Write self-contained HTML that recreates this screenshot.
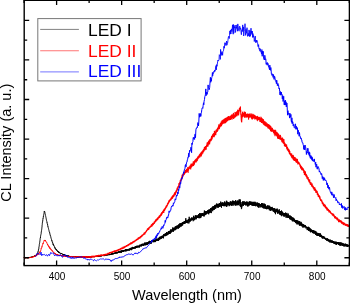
<!DOCTYPE html>
<html><head><meta charset="utf-8"><style>
html,body{margin:0;padding:0;background:#fff;}
svg{display:block;font-family:"Liberation Sans",sans-serif;will-change:transform;}
</style></head><body>
<svg width="350" height="303" viewBox="0 0 350 303">
<rect width="350" height="303" fill="#fff"/>
<path fill="none" stroke="#000" stroke-width="1.0" stroke-linejoin="round" stroke-opacity="1" d="M24.0 257.8 24.1 257.9 24.1 257.7 24.2 257.6 24.3 257.7 24.4 257.6 24.4 257.8 24.5 258.1 24.6 257.7 24.6 257.7 24.7 257.9 24.8 257.9 24.8 257.8 24.9 257.6 25.0 257.8 25.1 257.9 25.1 257.5 25.2 257.7 25.3 257.4 25.3 257.5 25.4 257.4 25.5 257.7 25.5 257.5 25.6 257.8 25.7 257.8 25.8 257.7 25.8 257.3 25.9 257.6 26.0 257.7 26.0 257.8 26.1 257.4 26.2 257.6 26.2 257.5 26.3 257.6 26.4 257.9 26.5 257.6 26.5 257.7 26.6 257.9 26.7 257.6 26.7 257.7 26.8 257.7 26.9 257.7 26.9 257.4 27.0 257.7 27.1 258.0 27.2 257.4 27.2 257.8 27.3 257.7 27.4 257.5 27.4 258.1 27.5 257.8 27.6 257.4 27.6 257.6 27.7 257.7 27.8 257.6 27.9 257.8 27.9 257.6 28.0 257.7 28.1 257.9 28.1 257.5 28.2 257.6 28.3 257.5 28.3 257.6 28.4 257.3 28.5 257.4 28.6 257.5 28.6 257.7 28.7 257.8 28.8 257.3 28.8 257.4 28.9 257.6 29.0 257.1 29.0 257.4 29.1 257.5 29.2 257.7 29.3 257.6 29.3 257.4 29.4 257.4 29.5 257.4 29.5 257.8 29.6 257.4 29.7 257.4 29.7 257.5 29.8 257.4 29.9 257.4 30.0 257.2 30.0 257.4 30.1 257.3 30.2 257.6 30.2 257.5 30.3 257.4 30.4 257.5 30.4 257.3 30.5 257.5 30.6 257.3 30.7 257.4 30.7 257.0 30.8 257.3 30.9 256.9 30.9 256.8 31.0 257.2 31.1 257.0 31.1 257.2 31.2 257.6 31.3 257.0 31.4 257.0 31.4 257.2 31.5 257.2 31.6 257.1 31.6 257.0 31.7 257.2 31.8 257.1 31.8 256.8 31.9 257.0 32.0 257.0 32.1 256.8 32.1 257.0 32.2 256.7 32.3 257.1 32.3 256.9 32.4 256.9 32.5 256.7 32.5 256.8 32.6 256.4 32.7 256.5 32.8 256.8 32.8 256.3 32.9 256.9 33.0 256.3 33.0 256.8 33.1 256.4 33.2 256.7 33.2 256.6 33.3 256.2 33.4 256.8 33.5 256.8 33.5 256.4 33.6 256.4 33.7 256.4 33.7 256.2 33.8 256.6 33.9 256.2 33.9 256.3 34.0 256.1 34.1 256.1 34.2 255.9 34.2 256.4 34.3 256.1 34.4 256.3 34.4 256.1 34.5 255.9 34.6 255.9 34.6 255.9 34.7 255.9 34.8 255.8 34.9 255.8 34.9 255.6 35.0 255.6 35.1 256.1 35.1 255.6 35.2 255.5 35.3 255.7 35.3 255.9 35.4 255.3 35.5 255.5 35.6 255.4 35.6 255.1 35.7 255.5 35.8 255.3 35.8 255.3 35.9 255.1 36.0 255.3 36.0 255.0 36.1 255.0 36.2 254.8 36.3 254.7 36.3 255.2 36.4 254.7 36.5 254.8 36.5 254.7 36.6 254.5 36.7 254.4 36.7 254.6 36.8 254.3 36.9 254.3 37.0 254.2 37.0 254.4 37.1 254.2 37.2 254.0 37.2 253.7 37.3 253.4 37.4 253.7 37.4 253.6 37.5 253.2 37.6 253.2 37.7 253.0 37.7 252.9 37.8 252.7 37.9 252.2 37.9 252.4 38.0 251.6 38.1 251.8 38.1 251.5 38.2 251.3 38.3 251.3 38.4 251.0 38.4 250.2 38.5 249.8 38.6 250.0 38.6 249.3 38.7 249.1 38.8 248.8 38.8 247.9 38.9 247.4 39.0 247.4 39.1 246.9 39.1 246.3 39.2 245.9 39.3 245.2 39.3 244.5 39.4 244.3 39.5 243.6 39.5 243.0 39.6 242.9 39.7 242.3 39.8 241.9 39.8 241.2 39.9 240.8 40.0 240.2 40.0 239.8 40.1 239.5 40.2 238.9 40.2 238.6 40.3 238.1 40.4 238.0 40.5 236.9 40.5 236.9 40.6 236.2 40.7 235.8 40.7 235.1 40.8 234.9 40.9 234.8 40.9 234.3 41.0 234.0 41.1 233.6 41.2 233.5 41.2 232.9 41.3 232.1 41.4 232.0 41.4 231.2 41.5 230.5 41.6 230.5 41.6 230.2 41.7 229.4 41.8 228.5 41.9 227.9 41.9 227.7 42.0 226.8 42.1 226.1 42.1 225.4 42.2 224.8 42.3 224.3 42.3 223.6 42.4 222.9 42.5 222.1 42.6 221.8 42.6 221.0 42.7 220.9 42.8 219.9 42.8 219.7 42.9 219.3 43.0 218.6 43.0 218.8 43.1 218.4 43.2 217.6 43.3 217.5 43.3 217.0 43.4 216.1 43.5 216.3 43.5 215.9 43.6 215.5 43.7 214.9 43.7 214.6 43.8 214.2 43.9 214.1 44.0 213.4 44.0 212.9 44.1 212.8 44.2 212.1 44.2 211.8 44.3 211.2 44.4 211.7 44.4 211.4 44.5 211.4 44.6 211.4 44.7 211.4 44.7 211.6 44.8 211.8 44.9 212.1 44.9 212.5 45.0 213.2 45.1 213.4 45.1 213.6 45.2 213.9 45.3 214.3 45.4 215.1 45.4 215.2 45.5 215.4 45.6 215.7 45.6 215.8 45.7 216.4 45.8 216.9 45.8 217.0 45.9 217.3 46.0 217.7 46.1 218.1 46.1 218.1 46.2 218.7 46.3 218.9 46.3 219.5 46.4 219.5 46.5 220.1 46.5 220.6 46.6 220.6 46.7 220.8 46.8 221.3 46.8 221.6 46.9 221.7 47.0 222.3 47.0 222.9 47.1 222.7 47.2 223.1 47.2 223.2 47.3 223.8 47.4 223.8 47.5 224.1 47.5 224.9 47.6 224.7 47.7 225.4 47.7 225.8 47.8 225.8 47.9 226.2 47.9 226.8 48.0 226.6 48.1 226.8 48.2 227.0 48.2 227.5 48.3 228.1 48.4 228.3 48.4 228.2 48.5 228.5 48.6 228.8 48.6 229.3 48.7 229.4 48.8 229.8 48.9 230.1 48.9 230.2 49.0 230.6 49.1 230.9 49.1 231.1 49.2 231.5 49.3 232.0 49.3 232.0 49.4 232.2 49.5 232.1 49.6 232.7 49.6 232.5 49.7 232.9 49.8 233.6 49.8 233.8 49.9 233.9 50.0 233.8 50.0 234.3 50.1 234.5 50.2 235.0 50.3 235.6 50.3 235.4 50.4 235.5 50.5 235.6 50.5 236.1 50.6 236.3 50.7 236.4 50.7 236.9 50.8 236.9 50.9 237.6 51.0 237.9 51.0 238.1 51.1 238.1 51.2 238.5 51.2 238.6 51.3 238.8 51.4 239.1 51.4 239.2 51.5 239.4 51.6 240.1 51.7 240.1 51.7 240.4 51.8 240.8 51.9 240.4 51.9 240.8 52.0 241.2 52.1 241.5 52.1 241.5 52.2 242.0 52.3 242.0 52.4 241.9 52.4 242.2 52.5 242.7 52.6 242.8 52.6 242.5 52.7 243.3 52.8 243.4 52.8 243.7 52.9 243.5 53.0 243.7 53.1 243.7 53.1 244.6 53.2 244.2 53.3 244.7 53.3 244.4 53.4 244.8 53.5 244.6 53.5 245.0 53.6 245.4 53.7 245.1 53.8 245.7 53.8 245.7 53.9 245.6 54.0 245.8 54.0 246.0 54.1 246.2 54.2 246.2 54.2 246.3 54.3 246.6 54.4 246.6 54.5 246.6 54.5 247.0 54.6 247.3 54.7 247.0 54.7 247.4 54.8 247.4 54.9 247.5 54.9 248.0 55.0 247.8 55.1 248.4 55.2 248.0 55.2 248.4 55.3 248.4 55.4 248.4 55.4 248.7 55.5 248.7 55.6 249.0 55.6 248.9 55.7 248.8 55.8 249.1 55.9 249.2 55.9 249.5 56.0 249.2 56.1 249.5 56.1 249.2 56.2 249.8 56.3 249.6 56.3 249.5 56.4 249.9 56.5 250.2 56.6 249.8 56.6 250.0 56.7 250.1 56.8 250.1 56.8 250.5 56.9 250.3 57.0 250.4 57.0 250.8 57.1 250.6 57.2 250.9 57.3 250.7 57.3 250.7 57.4 250.7 57.5 251.5 57.5 251.1 57.6 251.3 57.7 251.3 57.7 251.4 57.8 251.4 57.9 251.9 58.0 251.3 58.0 251.3 58.1 251.5 58.2 251.5 58.2 251.9 58.3 252.0 58.4 251.7 58.4 251.7 58.5 251.9 58.6 252.3 58.7 251.6 58.7 252.3 58.8 252.0 58.9 252.5 58.9 252.1 59.0 252.3 59.1 252.1 59.1 252.3 59.2 252.8 59.3 252.7 59.4 252.5 59.4 252.5 59.5 252.3 59.6 252.7 59.6 252.8 59.7 252.8 59.8 252.8 59.8 252.7 59.9 252.9 60.0 253.0 60.1 253.3 60.1 253.4 60.2 253.1 60.3 253.0 60.3 253.2 60.4 253.1 60.5 253.1 60.5 253.3 60.6 253.1 60.7 253.5 60.8 253.4 60.8 253.5 60.9 253.4 61.0 253.4 61.0 253.4 61.1 253.5 61.2 253.5 61.2 253.7 61.3 253.7 61.4 253.4 61.5 253.8 61.5 253.5 61.6 253.7 61.7 253.8 61.7 253.5 61.8 253.9 61.9 254.0 61.9 253.9 62.0 253.9 62.1 253.9 62.2 253.9 62.2 254.0 62.3 254.0 62.4 254.2 62.4 253.9 62.5 254.2 62.6 254.2 62.6 254.2 62.7 254.2 62.8 254.4 62.9 254.0 62.9 254.4 63.0 254.4 63.1 254.5 63.1 254.5 63.2 254.3 63.3 254.4 63.3 254.6 63.4 254.6 63.5 254.6 63.6 254.3 63.6 254.7 63.7 254.9 63.8 254.8 63.8 254.7 63.9 254.4 64.0 254.9 64.0 254.7 64.1 254.3 64.2 254.9 64.3 254.5 64.3 254.6 64.4 254.7 64.5 255.1 64.5 254.8 64.6 255.0 64.7 255.3 64.7 255.3 64.8 255.0 64.9 255.0 65.0 254.8 65.0 254.9 65.1 255.2 65.2 255.2 65.2 255.2 65.3 255.4 65.4 255.0 65.4 255.2 65.5 255.4 65.6 255.4 65.7 255.5 65.7 255.4 65.8 255.2 65.9 255.4 65.9 255.2 66.0 255.0 66.1 255.5 66.1 255.4 66.2 255.5 66.3 255.1 66.4 255.4 66.4 255.4 66.5 255.3 66.6 255.1 66.6 255.5 66.7 255.8 66.8 255.7 66.8 255.5 66.9 255.6 67.0 255.8 67.1 255.1 67.1 255.7 67.2 255.8 67.3 255.9 67.3 256.1 67.4 256.0 67.5 255.8 67.5 255.8 67.6 256.0 67.7 255.7 67.8 255.8 67.8 256.0 67.9 256.3 68.0 255.8 68.0 255.9 68.1 255.9 68.2 256.2 68.2 255.9 68.3 256.2 68.4 255.8 68.5 255.9 68.5 256.0 68.6 256.2 68.7 256.2 68.7 255.7 68.8 255.9 68.9 256.1 68.9 255.9 69.0 255.8 69.1 256.3 69.2 256.2 69.2 256.2 69.3 256.0 69.4 256.3 69.4 256.1 69.5 256.4 69.6 256.0 69.6 256.0 69.7 256.2 69.8 256.1 69.9 256.3 69.9 256.3 70.0 256.0 70.1 256.2 70.1 256.2 70.2 256.4 70.3 256.1 70.3 256.2 70.4 256.5 70.5 256.7 70.6 256.7 70.6 256.3 70.7 256.4 70.8 256.6 70.8 256.3 70.9 256.1 71.0 256.4 71.0 256.4 71.1 256.2 71.2 256.0 71.3 256.1 71.3 256.5 71.4 256.2 71.5 256.4 71.5 256.5 71.6 256.5 71.7 256.4 71.7 256.5 71.8 256.3 71.9 256.4 72.0 256.3 72.0 256.7 72.1 256.5 72.2 256.3 72.2 256.4 72.3 256.5 72.4 256.7 72.4 256.2 72.5 256.3 72.6 256.5 72.7 257.1 72.7 256.7 72.8 256.5 72.9 256.7 72.9 257.0 73.0 256.5 73.1 256.5 73.1 256.8 73.2 256.7 73.3 256.7 73.4 256.5 73.4 257.0 73.5 257.0 73.6 256.8 73.6 256.8 73.7 256.2 73.8 256.8 73.8 256.6 73.9 256.8 74.0 256.8 74.1 256.6 74.1 256.3 74.2 256.8 74.3 256.5 74.3 256.6 74.4 256.6 74.5 256.7 74.5 256.2 74.6 257.0 74.7 256.8 74.8 257.0 74.8 257.2 74.9 256.8 75.0 256.4 75.0 256.6 75.1 256.5 75.2 256.7 75.2 256.8 75.3 256.4 75.4 256.9 75.5 256.5 75.5 256.9 75.6 256.8 75.7 256.8 75.7 256.8 75.8 256.7 75.9 256.7 75.9 256.5 76.0 256.8 76.1 257.2 76.2 257.3 76.2 257.1 76.3 257.0 76.4 256.7 76.4 257.2 76.5 256.9 76.6 256.9 76.6 256.8 76.7 256.9 76.8 256.8 76.9 256.9 76.9 256.7 77.0 256.8 77.1 257.4 77.1 256.9 77.2 256.9 77.3 257.0 77.3 257.1 77.4 256.7 77.5 256.9 77.6 257.1 77.6 257.0 77.7 257.0 77.8 257.3 77.8 256.8 77.9 257.0 78.0 256.8 78.0 257.3 78.1 256.6 78.2 256.8 78.3 256.9 78.3 257.1 78.4 257.1 78.5 257.3 78.5 256.6 78.6 257.1 78.7 256.9 78.7 256.8 78.8 257.1 78.9 256.8 79.0 256.5 79.0 256.9 79.1 256.7 79.2 256.9 79.2 257.1 79.3 257.1 79.4 257.3 79.4 257.0 79.5 256.7 79.6 256.8 79.7 256.8 79.7 256.7 79.8 257.1 79.9 256.9 79.9 256.6 80.0 257.1"/><path fill="none" stroke="#000" stroke-width="0.95" stroke-linejoin="round" stroke-opacity="1" d="M80.0 257.1 80.1 257.0 80.1 257.1 80.2 257.0 80.3 257.1 80.4 257.0 80.4 257.3 80.5 257.1 80.6 257.1 80.6 257.1 80.7 256.7 80.8 257.0 80.8 256.9 80.9 257.0 81.0 256.7 81.1 257.4 81.1 257.0 81.2 256.7 81.3 256.6 81.3 256.9 81.4 257.0 81.5 256.8 81.5 257.0 81.6 256.9 81.7 257.1 81.8 256.8 81.8 257.0 81.9 257.2 82.0 257.6 82.0 256.8 82.1 256.9 82.2 256.8 82.2 257.2 82.3 256.8 82.4 256.9 82.5 257.0 82.5 256.8 82.6 256.8 82.7 256.9 82.7 256.5 82.8 256.7 82.9 256.9 82.9 257.0 83.0 257.0 83.1 256.6 83.2 256.9 83.2 257.2 83.3 257.1 83.4 257.0 83.4 256.8 83.5 257.1 83.6 256.9 83.6 256.7 83.7 256.8 83.8 257.3 83.9 257.0 83.9 257.3 84.0 256.9 84.1 257.2 84.1 256.9 84.2 257.0 84.3 257.5 84.3 257.2 84.4 256.9 84.5 257.0 84.6 257.1 84.6 257.3 84.7 256.9 84.8 256.6 84.8 256.9 84.9 257.0 85.0 257.0 85.0 257.3 85.1 257.1 85.2 257.2 85.3 256.8 85.3 257.2 85.4 257.5 85.5 257.2 85.5 257.1 85.6 257.0 85.7 257.4 85.7 256.8 85.8 257.0 85.9 257.1 86.0 257.2 86.0 256.9 86.1 257.1 86.2 256.9 86.2 257.0 86.3 257.0 86.4 256.7 86.4 257.0 86.5 257.2 86.6 256.8 86.7 256.9 86.7 257.1 86.8 256.8 86.9 257.0 86.9 256.8 87.0 257.3 87.1 257.5 87.1 257.5 87.2 257.0 87.3 257.2 87.4 257.0 87.4 257.0 87.5 257.3 87.6 256.7 87.6 257.2 87.7 257.0 87.8 257.3 87.8 257.0 87.9 256.8 88.0 257.1 88.1 257.2 88.1 257.0 88.2 257.1 88.3 256.9 88.3 256.5 88.4 257.2 88.5 257.2 88.5 257.0 88.6 257.0 88.7 257.2 88.8 256.9 88.8 256.8 88.9 257.0 89.0 257.3 89.0 256.7 89.1 257.3 89.2 256.8 89.2 256.7 89.3 257.3 89.4 257.0 89.5 256.7 89.5 256.9 89.6 257.2 89.7 257.3 89.7 256.9 89.8 257.1 89.9 257.1 89.9 256.8 90.0 257.0 90.1 257.0 90.2 256.8 90.2 256.8 90.3 257.0 90.4 257.0 90.4 256.8 90.5 256.8 90.6 257.2 90.6 257.0 90.7 257.1 90.8 257.2 90.9 257.1 90.9 257.4 91.0 256.7 91.1 257.1 91.1 256.8 91.2 257.3 91.3 257.3 91.3 256.4 91.4 256.7 91.5 257.0 91.6 257.1 91.6 257.1 91.7 256.9 91.8 257.0 91.8 257.0 91.9 256.8 92.0 257.1 92.0 256.3 92.1 257.0 92.2 256.6 92.3 257.1 92.3 256.8 92.4 256.6 92.5 256.9 92.5 256.6 92.6 256.6 92.7 256.4 92.7 256.8 92.8 256.9 92.9 257.0 93.0 256.7 93.0 257.0 93.1 256.8 93.2 256.7 93.2 256.9 93.3 257.0 93.4 256.7 93.4 256.7 93.5 256.7 93.6 256.7 93.7 256.5 93.7 257.0 93.8 256.6 93.9 256.8 93.9 256.5 94.0 256.8 94.1 256.8 94.1 256.6 94.2 257.1 94.3 256.7 94.4 257.1 94.4 256.9 94.5 256.5 94.6 256.5 94.6 256.7 94.7 256.6 94.8 256.6 94.8 256.5 94.9 256.1 95.0 256.5 95.1 256.0 95.1 256.7 95.2 256.4 95.3 256.4 95.3 256.5 95.4 256.6 95.5 256.2 95.5 256.1 95.6 256.2 95.7 256.0 95.8 256.3 95.8 256.9 95.9 256.2 96.0 256.6 96.0 256.1 96.1 256.5 96.2 256.4 96.2 256.4 96.3 256.6 96.4 256.9 96.5 256.5 96.5 256.4 96.6 256.2 96.7 256.5 96.7 256.3 96.8 256.6 96.9 256.4 96.9 256.8 97.0 255.8 97.1 256.3 97.2 256.6 97.2 256.2 97.3 256.1 97.4 256.2 97.4 255.9 97.5 256.3 97.6 256.9 97.6 256.6 97.7 256.0 97.8 256.0 97.9 256.1 97.9 256.5 98.0 256.0 98.1 256.0 98.1 256.4 98.2 256.4 98.3 256.1 98.3 255.9 98.4 255.8 98.5 256.0 98.6 255.6 98.6 256.4 98.7 256.0 98.8 256.3 98.8 256.6 98.9 256.4 99.0 255.8 99.0 256.3 99.1 256.4 99.2 255.9 99.3 255.8 99.3 256.0 99.4 255.6 99.5 256.4 99.5 255.4 99.6 255.8 99.7 256.0 99.7 256.0 99.8 256.1 99.9 256.1 100.0 255.9 100.0 256.3 100.1 255.4 100.2 256.0 100.2 255.8 100.3 256.0 100.4 256.0 100.4 255.7 100.5 255.8 100.6 256.1 100.7 256.0 100.7 255.7 100.8 256.5 100.9 256.5 100.9 255.5 101.0 256.0 101.1 256.5 101.1 256.1 101.2 255.9 101.3 255.8 101.4 255.7 101.4 255.8 101.5 255.7 101.6 256.0 101.6 255.7 101.7 255.7 101.8 255.4 101.8 255.7 101.9 255.5 102.0 255.7 102.1 256.0 102.1 255.8 102.2 255.8 102.3 255.8 102.3 255.7 102.4 255.6 102.5 255.6 102.5 255.9 102.6 255.3 102.7 256.0 102.8 255.6 102.8 255.4 102.9 255.5 103.0 255.4 103.0 255.6 103.1 255.4 103.2 255.9 103.2 255.3 103.3 254.9 103.4 255.3 103.5 254.9 103.5 255.5 103.6 255.8 103.7 255.7 103.7 255.1 103.8 255.2 103.9 255.9 103.9 255.5 104.0 255.4 104.1 255.7 104.2 256.1 104.2 255.8 104.3 255.4 104.4 255.5 104.4 255.5 104.5 255.2 104.6 255.0 104.6 255.3 104.7 255.0 104.8 255.3 104.9 255.3 104.9 256.0 105.0 255.0 105.1 255.2 105.1 255.2 105.2 255.4 105.3 255.5 105.3 255.1 105.4 255.0 105.5 254.7 105.6 254.9 105.6 255.3 105.7 255.2 105.8 254.8 105.8 255.0 105.9 255.1 106.0 255.3 106.0 254.9 106.1 255.0 106.2 254.5 106.3 254.7 106.3 255.6 106.4 254.4 106.5 254.9 106.5 255.1 106.6 254.9 106.7 254.8 106.7 255.0 106.8 255.0 106.9 255.0 107.0 254.4 107.0 254.9 107.1 254.7 107.2 254.8 107.2 255.0 107.3 255.1 107.4 255.2 107.4 254.8 107.5 255.2 107.6 255.3 107.7 255.2 107.7 255.3 107.8 254.8 107.9 254.8 107.9 255.1 108.0 254.4 108.1 254.9 108.1 254.7 108.2 254.7 108.3 254.3 108.4 254.5 108.4 254.8 108.5 255.0 108.6 255.1 108.6 254.7 108.7 254.7 108.8 254.5 108.8 254.8 108.9 254.6 109.0 254.9 109.1 255.2 109.1 254.7 109.2 254.2 109.3 254.4 109.3 254.2 109.4 254.2 109.5 255.0 109.5 254.7 109.6 254.1 109.7 254.8 109.8 255.0 109.8 254.4 109.9 254.3 110.0 254.4 110.0 254.6 110.1 254.7 110.2 254.8 110.2 254.8 110.3 254.8 110.4 254.9 110.5 254.6 110.5 253.9 110.6 254.3 110.7 254.4 110.7 254.2 110.8 254.6 110.9 254.2 110.9 254.0 111.0 254.7 111.1 254.4 111.2 254.3 111.2 254.5 111.3 254.5 111.4 254.3 111.4 253.3 111.5 253.9 111.6 253.9 111.6 253.7 111.7 254.1 111.8 254.4 111.9 253.8 111.9 253.6 112.0 254.6 112.1 253.8 112.1 253.5 112.2 253.9 112.3 254.0 112.3 253.6 112.4 254.1 112.5 253.6 112.6 253.4 112.6 253.8 112.7 254.0 112.8 253.5 112.8 253.8 112.9 253.6 113.0 254.6 113.0 253.3 113.1 254.0 113.2 253.5 113.3 253.5 113.3 253.8 113.4 253.8 113.5 253.9 113.5 253.5 113.6 253.2 113.7 253.2 113.7 253.6 113.8 253.6 113.9 253.8 114.0 253.5 114.0 253.7 114.1 253.8 114.2 253.3 114.2 252.7 114.3 252.8 114.4 252.7 114.4 253.8 114.5 252.9 114.6 253.6 114.7 253.3 114.7 253.7 114.8 253.5 114.9 253.0 114.9 253.0 115.0 253.1 115.1 253.1 115.1 252.8 115.2 253.0 115.3 253.6 115.4 252.3 115.4 253.0 115.5 252.6 115.6 253.0 115.6 253.2 115.7 252.9 115.8 253.1 115.8 252.3 115.9 253.2 116.0 252.6 116.1 253.0 116.1 252.9 116.2 251.8 116.3 252.5 116.3 252.8 116.4 253.3 116.5 252.8 116.5 252.8 116.6 252.1 116.7 253.2 116.8 253.3 116.8 252.6 116.9 252.5 117.0 252.0 117.0 252.9 117.1 253.6 117.2 252.8 117.2 253.0 117.3 252.7 117.4 252.1 117.5 253.0 117.5 252.0 117.6 252.4 117.7 252.5 117.7 252.8 117.8 252.6 117.9 252.5 117.9 252.1 118.0 251.8 118.1 252.4 118.2 252.0 118.2 251.8 118.3 251.8 118.4 252.1 118.4 251.5 118.5 251.7 118.6 251.6 118.6 252.3 118.7 252.3 118.8 252.9 118.9 251.5 118.9 251.9 119.0 252.5 119.1 252.0 119.1 251.9 119.2 252.7 119.3 251.9 119.3 251.6 119.4 251.5 119.5 252.1 119.6 252.1 119.6 251.4 119.7 251.5 119.8 252.1 119.8 252.1 119.9 251.6 120.0 252.1 120.0 252.1 120.1 251.1 120.2 251.7 120.3 251.9 120.3 251.5 120.4 250.9 120.5 251.6 120.5 252.0 120.6 252.3 120.7 250.8 120.7 252.7 120.8 251.2 120.9 252.0 121.0 252.1 121.0 252.0 121.1 251.6 121.2 251.1 121.2 251.8 121.3 251.2 121.4 250.4 121.4 252.7 121.5 251.7 121.6 252.2 121.7 251.0 121.7 252.0 121.8 252.0 121.9 252.0 121.9 251.3 122.0 250.8 122.1 251.2 122.1 250.4 122.2 250.5 122.3 251.3 122.4 250.8 122.4 251.1 122.5 251.1 122.6 252.0 122.6 251.7 122.7 251.1 122.8 251.6 122.8 250.8 122.9 250.9 123.0 251.5 123.1 250.5 123.1 250.9 123.2 250.4 123.3 251.0 123.3 251.7 123.4 250.6 123.5 251.0 123.5 250.5 123.6 250.4 123.7 250.3 123.8 251.5 123.8 251.9 123.9 251.0 124.0 250.5 124.0 251.1 124.1 250.6 124.2 251.1 124.2 250.9 124.3 250.8 124.4 251.0 124.5 250.4 124.5 250.5 124.6 249.9 124.7 250.4 124.7 250.0 124.8 250.5 124.9 250.1 124.9 250.6 125.0 250.7 125.1 249.9 125.2 250.1 125.2 250.0 125.3 250.8 125.4 251.2 125.4 250.8 125.5 250.2 125.6 251.0 125.6 249.7 125.7 251.0 125.8 250.0 125.9 249.0 125.9 251.5 126.0 251.0 126.1 249.7 126.1 250.3 126.2 250.1 126.3 250.2 126.3 249.5 126.4 249.8 126.5 250.3 126.6 250.2 126.6 250.6 126.7 250.1 126.8 251.1 126.8 249.7 126.9 250.1 127.0 249.1 127.0 249.4 127.1 250.5 127.2 249.5 127.3 250.1 127.3 249.8 127.4 249.4 127.5 249.7 127.5 249.6 127.6 249.6 127.7 250.1 127.7 250.1 127.8 249.5 127.9 249.3 128.0 249.8 128.0 249.6 128.1 250.1 128.2 250.9 128.2 250.0 128.3 249.6 128.4 249.5 128.4 249.1 128.5 249.1 128.6 249.0 128.7 249.3 128.7 249.3 128.8 249.8 128.9 249.2 128.9 249.3 129.0 248.8 129.1 250.2 129.1 249.6 129.2 250.2 129.3 249.7 129.4 250.0 129.4 249.1 129.5 249.6 129.6 250.5 129.6 248.6 129.7 249.7 129.8 250.0 129.8 249.3 129.9 249.5 130.0 249.7 130.1 248.7 130.1 249.3 130.2 248.6 130.3 248.7 130.3 248.7 130.4 248.9 130.5 249.0 130.5 249.1 130.6 248.2 130.7 249.9 130.8 249.4 130.8 249.2 130.9 248.6 131.0 248.7 131.0 249.1 131.1 249.0 131.2 247.8 131.2 249.1 131.3 250.2 131.4 247.7 131.5 249.2 131.5 248.8 131.6 248.5 131.7 249.3 131.7 247.9 131.8 248.6 131.9 249.3 131.9 248.4 132.0 248.2 132.1 248.5 132.2 248.2 132.2 249.2 132.3 247.9 132.4 248.8 132.4 247.7 132.5 248.7 132.6 248.2 132.6 246.9 132.7 248.2 132.8 247.6 132.9 248.0 132.9 249.0 133.0 247.6 133.1 247.6 133.1 248.9 133.2 248.2 133.3 248.9 133.3 248.2 133.4 247.5 133.5 248.0 133.6 248.7 133.6 248.5 133.7 247.9 133.8 247.9 133.8 247.8 133.9 247.6 134.0 248.9 134.0 247.8 134.1 247.2 134.2 247.5 134.3 248.2 134.3 248.1 134.4 247.6 134.5 247.3 134.5 247.7 134.6 246.7 134.7 246.9 134.7 248.1 134.8 247.3 134.9 247.8 135.0 248.2 135.0 247.9 135.1 247.5 135.2 248.7 135.2 247.8 135.3 247.2 135.4 247.8 135.4 247.6 135.5 246.9 135.6 247.4 135.7 247.2 135.7 246.2 135.8 247.2 135.9 247.1 135.9 247.0 136.0 246.3 136.1 247.0 136.1 247.1 136.2 247.2 136.3 246.5 136.4 247.5 136.4 246.4 136.5 246.9 136.6 247.8 136.6 246.6 136.7 246.7 136.8 247.6 136.8 246.7 136.9 246.7 137.0 247.0 137.1 247.5 137.1 245.5 137.2 246.3 137.3 246.2 137.3 246.1 137.4 246.2 137.5 246.2 137.5 246.9 137.6 246.2 137.7 246.7 137.8 246.9 137.8 246.2 137.9 246.7 138.0 247.5 138.0 246.7 138.1 246.1 138.2 246.5 138.2 245.9 138.3 246.6 138.4 246.9 138.5 245.9 138.5 246.3 138.6 247.0 138.7 246.0 138.7 246.4 138.8 245.7 138.9 245.8 138.9 245.9 139.0 247.5 139.1 245.9 139.2 245.9 139.2 245.8 139.3 246.0 139.4 246.5 139.4 246.2 139.5 247.3 139.6 246.2 139.6 246.9 139.7 246.1 139.8 246.3 139.9 245.1 139.9 245.8 140.0 245.8 140.1 245.7 140.1 244.5 140.2 246.3 140.3 245.6 140.3 245.5 140.4 245.6 140.5 245.6 140.6 245.9 140.6 244.9 140.7 245.1 140.8 245.8 140.8 245.7 140.9 245.3 141.0 245.2 141.0 245.0 141.1 245.5 141.2 246.2 141.3 244.8 141.3 246.4 141.4 245.9 141.5 245.1 141.5 245.8 141.6 244.4 141.7 244.2 141.7 244.5 141.8 245.0 141.9 245.0 142.0 244.9 142.0 245.3 142.1 243.8 142.2 245.5 142.2 244.2 142.3 244.7 142.4 244.8 142.4 244.3 142.5 244.1 142.6 244.4 142.7 245.0 142.7 245.3 142.8 245.3 142.9 244.3 142.9 244.4 143.0 244.3 143.1 245.1 143.1 243.5 143.2 245.6 143.3 244.4 143.4 244.2 143.4 244.9 143.5 245.4 143.6 244.9 143.6 245.3 143.7 244.7 143.8 245.4 143.8 245.4 143.9 244.5 144.0 245.5 144.1 244.6 144.1 244.5 144.2 243.8 144.3 244.2 144.3 244.9 144.4 243.5 144.5 244.8 144.5 244.5 144.6 244.5 144.7 242.8 144.8 244.2 144.8 244.6 144.9 243.7 145.0 244.2 145.0 242.6 145.1 244.6 145.2 243.7 145.2 244.7 145.3 242.8 145.4 244.5 145.5 243.8 145.5 244.5 145.6 243.3 145.7 243.5 145.7 245.4 145.8 243.3 145.9 243.4 145.9 243.6 146.0 243.1 146.1 244.6 146.2 244.9 146.2 243.3 146.3 242.5 146.4 244.5 146.4 244.4 146.5 244.2 146.6 244.4 146.6 243.0 146.7 243.4 146.8 242.6 146.9 242.5 146.9 244.2 147.0 243.0 147.1 245.0 147.1 243.5 147.2 242.9 147.3 243.9 147.3 244.6 147.4 243.7 147.5 242.4 147.6 243.5 147.6 244.2 147.7 242.9 147.8 242.7 147.8 243.9 147.9 243.2 148.0 242.3 148.0 242.8 148.1 242.5 148.2 243.3 148.3 243.1 148.3 243.8 148.4 243.5 148.5 241.8 148.5 243.2 148.6 243.5 148.7 243.2 148.7 243.6 148.8 242.4 148.9 242.1 149.0 243.4 149.0 242.0 149.1 241.2 149.2 243.4 149.2 242.2 149.3 242.4 149.4 241.6 149.4 241.6 149.5 241.7 149.6 242.3 149.7 242.8 149.7 240.8 149.8 243.0 149.9 241.6 149.9 241.6 150.0 242.9 150.1 242.3 150.1 241.2 150.2 243.7 150.3 241.7 150.4 242.5 150.4 242.4 150.5 243.3 150.6 241.9 150.6 242.9 150.7 241.6 150.8 242.9 150.8 241.5 150.9 241.8 151.0 243.4 151.1 242.2 151.1 242.1 151.2 243.6 151.3 242.2 151.3 241.3 151.4 242.4 151.5 241.0 151.5 242.7 151.6 242.7 151.7 241.4 151.8 241.3 151.8 241.9 151.9 241.7 152.0 240.9 152.0 242.1 152.1 240.1 152.2 241.3 152.2 241.3 152.3 241.3 152.4 241.7 152.5 240.6 152.5 241.9 152.6 241.3 152.7 240.9 152.7 240.3 152.8 240.5 152.9 241.6 152.9 240.6 153.0 241.3 153.1 242.0 153.2 242.0 153.2 242.3 153.3 240.9 153.4 240.3 153.4 241.9 153.5 241.3 153.6 241.9 153.6 241.0 153.7 241.9 153.8 241.6 153.9 241.5 153.9 241.3 154.0 241.2 154.1 241.0 154.1 241.0 154.2 241.5 154.3 240.4 154.3 242.0 154.4 240.6 154.5 241.4 154.6 240.6 154.6 240.4 154.7 242.1 154.8 240.3 154.8 239.6 154.9 240.0 155.0 240.2 155.0 242.1 155.1 240.6 155.2 241.1 155.3 239.6 155.3 240.6 155.4 240.8 155.5 241.6 155.5 239.7 155.6 240.7 155.7 240.4 155.7 239.4 155.8 240.1 155.9 239.9 156.0 238.3 156.0 240.5 156.1 240.4 156.2 239.6 156.2 238.9 156.3 241.1 156.4 240.1 156.4 240.6 156.5 240.9 156.6 239.4 156.7 240.4 156.7 239.6 156.8 239.7 156.9 239.6 156.9 239.7 157.0 240.5 157.1 239.7 157.1 239.4 157.2 239.3 157.3 239.8 157.4 238.8 157.4 239.0 157.5 239.4 157.6 238.9 157.6 239.3 157.7 238.8 157.8 240.8 157.8 240.3 157.9 239.6 158.0 239.1 158.1 240.9 158.1 239.4 158.2 239.0 158.3 239.3 158.3 239.3 158.4 240.1 158.5 238.9 158.5 240.6 158.6 238.2 158.7 239.4 158.8 238.0 158.8 240.2 158.9 238.5 159.0 238.7 159.0 239.4 159.1 239.6 159.2 237.7 159.2 238.3 159.3 237.4 159.4 238.6 159.5 238.4 159.5 238.2 159.6 237.9 159.7 238.1 159.7 237.7 159.8 238.7 159.9 239.5 159.9 236.7 160.0 238.1 160.1 237.8 160.2 238.5 160.2 237.3 160.3 237.9 160.4 237.2 160.4 238.5 160.5 238.0 160.6 237.8 160.6 238.2 160.7 237.6 160.8 236.5 160.9 238.2 160.9 237.9 161.0 237.5 161.1 238.4 161.1 238.6 161.2 236.7 161.3 236.9 161.3 238.7 161.4 238.6 161.5 236.8 161.6 236.4 161.6 236.8 161.7 236.8 161.8 235.9 161.8 237.2 161.9 236.1 162.0 236.1 162.0 237.8 162.1 236.4 162.2 236.9 162.3 237.4 162.3 237.5 162.4 236.5 162.5 236.8 162.5 236.0 162.6 238.1 162.7 237.2 162.7 235.7 162.8 236.5 162.9 237.1 163.0 236.8 163.0 237.9 163.1 237.5 163.2 235.9 163.2 236.2 163.3 235.2 163.4 236.4 163.4 236.2 163.5 238.3 163.6 236.1 163.7 234.2 163.7 235.4 163.8 236.0 163.9 234.8 163.9 235.1 164.0 235.4 164.1 236.0 164.1 235.5 164.2 234.9 164.3 236.2 164.4 235.0 164.4 235.0 164.5 234.2 164.6 234.7 164.6 235.9 164.7 233.9 164.8 235.2 164.8 235.8 164.9 234.8 165.0 235.3 165.1 234.1 165.1 236.1 165.2 235.9 165.3 235.1 165.3 233.3 165.4 233.9 165.5 235.6 165.5 236.1 165.6 234.9 165.7 235.6 165.8 234.0 165.8 234.3 165.9 234.4 166.0 234.8 166.0 233.0 166.1 235.1 166.2 235.4 166.2 233.2 166.3 233.0 166.4 234.4 166.5 233.5 166.5 232.0 166.6 234.7 166.7 234.1 166.7 233.5 166.8 235.6 166.9 233.9 166.9 233.1 167.0 233.8 167.1 232.7 167.2 232.9 167.2 233.9 167.3 233.0 167.4 233.1 167.4 234.9 167.5 234.1 167.6 234.0 167.6 233.7 167.7 233.6 167.8 234.4 167.9 233.1 167.9 234.7 168.0 232.2 168.1 232.8 168.1 231.8 168.2 232.6 168.3 233.3 168.3 234.1 168.4 232.2 168.5 232.7 168.6 232.4 168.6 232.0 168.7 231.5 168.8 232.6 168.8 231.0 168.9 232.6 169.0 232.4 169.0 231.8 169.1 231.4 169.2 231.1 169.3 233.9 169.3 231.0 169.4 233.5 169.5 232.6 169.5 231.7 169.6 231.0 169.7 232.9 169.7 233.5 169.8 231.0 169.9 231.6 170.0 232.7 170.0 232.0 170.1 233.5 170.2 231.1 170.2 232.1 170.3 230.4 170.4 233.4 170.4 230.8 170.5 229.5 170.6 231.3 170.7 231.2 170.7 233.0 170.8 230.9 170.9 231.2 170.9 231.7 171.0 232.5 171.1 231.0 171.1 232.0 171.2 231.4 171.3 230.7 171.4 231.0 171.4 230.9 171.5 230.0 171.6 231.8 171.6 229.5 171.7 231.7 171.8 231.5 171.8 230.5 171.9 229.8 172.0 230.3 172.1 230.9 172.1 231.1 172.2 230.6 172.3 231.2 172.3 229.8 172.4 230.4 172.5 228.7 172.5 230.8 172.6 230.2 172.7 229.7 172.8 231.0 172.8 230.6 172.9 227.3 173.0 229.9 173.0 228.5 173.1 230.7 173.2 232.0 173.2 229.2 173.3 229.7 173.4 229.4 173.5 229.9 173.5 230.1 173.6 230.6 173.7 228.5 173.7 230.8 173.8 228.5 173.9 229.5 173.9 230.3 174.0 229.8 174.1 228.3 174.2 228.4 174.2 228.6 174.3 229.0 174.4 230.0 174.4 227.7 174.5 229.3 174.6 229.4 174.6 229.3 174.7 229.2 174.8 230.1 174.9 229.1 174.9 229.4 175.0 229.1 175.1 230.2 175.1 226.7 175.2 229.6 175.3 228.1 175.3 228.1 175.4 227.4 175.5 226.5 175.6 227.8 175.6 227.5 175.7 228.6 175.8 226.7 175.8 229.4 175.9 228.2 176.0 227.7 176.0 227.2 176.1 227.1 176.2 226.7 176.3 227.2 176.3 227.7 176.4 227.5 176.5 226.3 176.5 227.3 176.6 226.7 176.7 227.6 176.7 229.2 176.8 228.0 176.9 227.0 177.0 225.7 177.0 225.9 177.1 225.6 177.2 227.8 177.2 226.4 177.3 227.1 177.4 226.4 177.4 227.0 177.5 228.2 177.6 226.2 177.7 226.5 177.7 226.0 177.8 227.5 177.9 225.7 177.9 225.5 178.0 225.2 178.1 225.2 178.1 226.9 178.2 228.9 178.3 225.4 178.4 227.2 178.4 226.5 178.5 225.2 178.6 225.9 178.6 225.9 178.7 225.4 178.8 227.9 178.8 224.2 178.9 226.3 179.0 226.2 179.1 225.3 179.1 225.9 179.2 226.6 179.3 225.9 179.3 226.1 179.4 226.3 179.5 223.6 179.5 226.9 179.6 227.7 179.7 226.4 179.8 226.4 179.8 224.0 179.9 225.2 180.0 224.5 180.0 224.6 180.1 226.1 180.2 224.3 180.2 224.9 180.3 223.2 180.4 224.8 180.5 225.0 180.5 224.2 180.6 224.1 180.7 226.6 180.7 223.5 180.8 223.7 180.9 223.8 180.9 225.8 181.0 226.6 181.1 224.8 181.2 223.8 181.2 224.0 181.3 225.4 181.4 223.4 181.4 225.7 181.5 225.6 181.6 224.3 181.6 224.8 181.7 224.8 181.8 225.6 181.9 223.0 181.9 225.1 182.0 223.6 182.1 223.1 182.1 223.9 182.2 223.6 182.3 222.8 182.3 222.1 182.4 222.7 182.5 225.1 182.6 225.5 182.6 224.2 182.7 224.7 182.8 223.0 182.8 223.4 182.9 223.7 183.0 222.3 183.0 222.3 183.1 223.4 183.2 222.9 183.3 222.1 183.3 223.5 183.4 222.9 183.5 224.1 183.5 223.0 183.6 222.7 183.7 223.1 183.7 222.8 183.8 222.2 183.9 222.4 184.0 223.6 184.0 223.4 184.1 224.0 184.2 221.0 184.2 222.3 184.3 222.2 184.4 222.8 184.4 222.1 184.5 222.0 184.6 223.3 184.7 222.6 184.7 221.2 184.8 223.7 184.9 223.3 184.9 221.7 185.0 223.1 185.1 221.5 185.1 223.3 185.2 222.0 185.3 221.3 185.4 221.7 185.4 221.3 185.5 222.2 185.6 222.2 185.6 222.0 185.7 221.4 185.8 218.2 185.8 222.0 185.9 219.9 186.0 222.1 186.1 222.9 186.1 222.0 186.2 221.3 186.3 221.5 186.3 221.5 186.4 221.1 186.5 221.0 186.5 220.6 186.6 222.7 186.7 221.5 186.8 222.4 186.8 221.2 186.9 221.5 187.0 221.2 187.0 221.8 187.1 222.1 187.2 221.5 187.2 220.5 187.3 220.4 187.4 222.8 187.5 220.8 187.5 220.8 187.6 222.6 187.7 222.1 187.7 221.6 187.8 220.6 187.9 223.3 187.9 221.3 188.0 221.4 188.1 220.7 188.2 219.4 188.2 219.4 188.3 221.2 188.4 221.1 188.4 220.5 188.5 219.5 188.6 219.2 188.6 220.3 188.7 219.1 188.8 221.5 188.9 221.7 188.9 223.4 189.0 221.4 189.1 219.8 189.1 219.5 189.2 216.8 189.3 219.7 189.3 220.1 189.4 221.3 189.5 220.9 189.6 220.8 189.6 220.4 189.7 220.8 189.8 221.6 189.8 219.0 189.9 219.6 190.0 218.6 190.0 221.7 190.1 221.3 190.2 220.7 190.3 218.7 190.3 220.1 190.4 219.6 190.5 219.9 190.5 219.6 190.6 220.3 190.7 219.3 190.7 220.6 190.8 219.9 190.9 219.3 191.0 219.5 191.0 219.1 191.1 220.4 191.2 219.2 191.2 219.8 191.3 219.0 191.4 217.9 191.4 220.3 191.5 218.3 191.6 220.0 191.7 219.7 191.7 217.5 191.8 218.2 191.9 218.7 191.9 218.3 192.0 217.9 192.1 219.9 192.1 218.8 192.2 219.4 192.3 218.6 192.4 219.3 192.4 218.2 192.5 218.9 192.6 219.5 192.6 218.9 192.7 218.4 192.8 217.7 192.8 218.9 192.9 219.1 193.0 218.4 193.1 217.9 193.1 219.2 193.2 221.2 193.3 218.3 193.3 218.9 193.4 218.9 193.5 215.8 193.5 218.6 193.6 217.7 193.7 219.9 193.8 218.1 193.8 217.5 193.9 218.1 194.0 218.5 194.0 217.7 194.1 218.2 194.2 216.8 194.2 217.9 194.3 219.0 194.4 220.2 194.5 218.8 194.5 218.3 194.6 219.3 194.7 219.1 194.7 219.7 194.8 219.1 194.9 217.8 194.9 218.1 195.0 218.0 195.1 218.1 195.2 218.0 195.2 216.9 195.3 215.5 195.4 217.0 195.4 215.5 195.5 217.7 195.6 217.6 195.6 215.8 195.7 218.3 195.8 218.4 195.9 217.6 195.9 219.2 196.0 219.4 196.1 216.1 196.1 218.5 196.2 217.8 196.3 217.8 196.3 218.3 196.4 216.5 196.5 216.6 196.6 216.3 196.6 216.4 196.7 217.0 196.8 215.6 196.8 216.0 196.9 217.7 197.0 216.9 197.0 217.4 197.1 215.0 197.2 216.1 197.3 216.3 197.3 216.9 197.4 216.2 197.5 217.8 197.5 216.7 197.6 216.8 197.7 216.7 197.7 217.4 197.8 216.2 197.9 217.8 198.0 217.1 198.0 216.7 198.1 216.6 198.2 217.1 198.2 217.6 198.3 217.5 198.4 216.8 198.4 217.3 198.5 216.5 198.6 217.7 198.7 216.3 198.7 214.0 198.8 217.7 198.9 216.3 198.9 214.9 199.0 215.9 199.1 215.2 199.1 218.3 199.2 216.6 199.3 214.3 199.4 216.6 199.4 215.5 199.5 218.0 199.6 214.8 199.6 213.4 199.7 215.9 199.8 215.4 199.8 215.3 199.9 213.4 200.0 216.2 200.1 217.5 200.1 213.6 200.2 216.9 200.3 215.0 200.3 218.1 200.4 216.0 200.5 215.3 200.5 216.6 200.6 216.0 200.7 214.8 200.8 216.1 200.8 214.8 200.9 213.4 201.0 217.5 201.0 214.9 201.1 214.5 201.2 215.5 201.2 213.5 201.3 213.7 201.4 214.5 201.5 214.5 201.5 215.1 201.6 216.2 201.7 214.4 201.7 215.5 201.8 215.6 201.9 213.7 201.9 215.1 202.0 213.8 202.1 215.9 202.2 215.2 202.2 214.7 202.3 213.2 202.4 214.8 202.4 213.8 202.5 215.4 202.6 214.4 202.6 213.6 202.7 215.5 202.8 215.3 202.9 213.8 202.9 215.7 203.0 214.1 203.1 214.0 203.1 214.4 203.2 213.5 203.3 213.8 203.3 214.0 203.4 215.9 203.5 215.8 203.6 213.8 203.6 215.8 203.7 214.0 203.8 214.4 203.8 215.0 203.9 214.3 204.0 216.6 204.0 214.2 204.1 212.6 204.2 215.3 204.3 213.3 204.3 213.4 204.4 210.5 204.5 214.8 204.5 214.6 204.6 214.5 204.7 214.7 204.7 215.4 204.8 213.5 204.9 214.5 205.0 212.7 205.0 213.0 205.1 214.6 205.2 213.8 205.2 211.9 205.3 213.7 205.4 213.1 205.4 212.3 205.5 213.7 205.6 212.7 205.7 211.4 205.7 211.9 205.8 215.0 205.9 211.3 205.9 213.2 206.0 213.6 206.1 213.6 206.1 211.5 206.2 212.5 206.3 213.0 206.4 213.6 206.4 212.0 206.5 211.4 206.6 213.8 206.6 213.8 206.7 213.0 206.8 211.9 206.8 212.9 206.9 212.6 207.0 213.4 207.1 211.0 207.1 212.5 207.2 212.1 207.3 211.0 207.3 212.5 207.4 212.2 207.5 211.7 207.5 212.5 207.6 210.5 207.7 212.0 207.8 212.5 207.8 212.3 207.9 213.1 208.0 210.5 208.0 210.1 208.1 212.0 208.2 212.2 208.2 214.0 208.3 212.3 208.4 210.6 208.5 212.4 208.5 210.5 208.6 209.8 208.7 214.3 208.7 211.7 208.8 212.1 208.9 211.9 208.9 213.2 209.0 211.5 209.1 212.5 209.2 209.9 209.2 209.4 209.3 212.6 209.4 212.6 209.4 211.4 209.5 211.1 209.6 210.9 209.6 209.9 209.7 212.4 209.8 211.3 209.9 211.1 209.9 210.9 210.0 211.6 210.1 211.0 210.1 211.2 210.2 209.0 210.3 210.8 210.3 212.7 210.4 209.6 210.5 209.9 210.6 211.0 210.6 211.1 210.7 210.6 210.8 208.0 210.8 210.4 210.9 208.4 211.0 208.8 211.0 210.3 211.1 209.3 211.2 210.5 211.3 213.1 211.3 210.4 211.4 210.2 211.5 208.3 211.5 208.6 211.6 208.1 211.7 208.6 211.7 207.9 211.8 208.4 211.9 208.8 212.0 207.9 212.0 207.3 212.1 207.4 212.2 209.4 212.2 208.9 212.3 209.9 212.4 209.9 212.4 208.3 212.5 209.4 212.6 206.9 212.7 211.2 212.7 209.9 212.8 208.2 212.9 207.1 212.9 208.8 213.0 206.2 213.1 207.4 213.1 209.1 213.2 208.3 213.3 207.6 213.4 209.2 213.4 206.9 213.5 208.3 213.6 207.4 213.6 206.9 213.7 208.4 213.8 206.7 213.8 210.0 213.9 207.1 214.0 210.0 214.1 206.4 214.1 208.3 214.2 206.2 214.3 206.0 214.3 207.7 214.4 208.2 214.5 205.9 214.5 208.7 214.6 206.4 214.7 207.4 214.8 207.7 214.8 207.9 214.9 205.0 215.0 209.0 215.0 207.7 215.1 206.5 215.2 205.8 215.2 204.9 215.3 205.3 215.4 207.4 215.5 206.4 215.5 205.4 215.6 206.1 215.7 208.5 215.7 206.2 215.8 205.9 215.9 208.1 215.9 207.0 216.0 206.5 216.1 205.7 216.2 204.5 216.2 204.9 216.3 205.7 216.4 205.9 216.4 206.6 216.5 206.8 216.6 206.3 216.6 206.3 216.7 204.8 216.8 203.4 216.9 205.3 216.9 204.8 217.0 205.1 217.1 205.5 217.1 204.3 217.2 204.4 217.3 205.6 217.3 205.8 217.4 204.9 217.5 206.2 217.6 205.3 217.6 204.3 217.7 205.5 217.8 207.7 217.8 204.6 217.9 206.8 218.0 207.0 218.0 207.1 218.1 204.3 218.2 207.7 218.3 205.4 218.3 204.9 218.4 204.9 218.5 205.9 218.5 205.2 218.6 204.9 218.7 206.6 218.7 204.2 218.8 203.8 218.9 206.0 219.0 205.9 219.0 206.3 219.1 203.7 219.2 206.3 219.2 205.5 219.3 207.0 219.4 203.5 219.4 205.2 219.5 204.6 219.6 203.0 219.7 204.0 219.7 206.2 219.8 204.3 219.9 204.0 219.9 205.9 220.0 206.0 220.1 206.0 220.1 203.9 220.2 204.7 220.3 206.0 220.4 204.0 220.4 203.8 220.5 205.7 220.6 206.6 220.6 203.3 220.7 201.6 220.8 203.0 220.8 203.5 220.9 204.5 221.0 205.4 221.1 204.5 221.1 203.8 221.2 204.8 221.3 203.5 221.3 204.5 221.4 203.8 221.5 207.7 221.5 205.5 221.6 203.5 221.7 203.3 221.8 204.0 221.8 202.6 221.9 203.6 222.0 203.6 222.0 205.5 222.1 204.0 222.2 203.5 222.2 202.9 222.3 203.0 222.4 204.3 222.5 204.2 222.5 205.8 222.6 203.7 222.7 205.6 222.7 204.7 222.8 204.4 222.9 202.0 222.9 202.8 223.0 205.2 223.1 206.0 223.2 204.6 223.2 205.2 223.3 203.8 223.4 203.9 223.4 203.5 223.5 205.4 223.6 204.7 223.6 204.0 223.7 203.9 223.8 204.9 223.9 204.6 223.9 203.2 224.0 206.3 224.1 204.5 224.1 204.2 224.2 206.0 224.3 205.4 224.3 204.1 224.4 204.8 224.5 202.9 224.6 203.4 224.6 201.5 224.7 205.6 224.8 201.9 224.8 204.9 224.9 203.1 225.0 203.0 225.0 203.9 225.1 204.4 225.2 204.8 225.3 206.2 225.3 204.5 225.4 205.1 225.5 203.4 225.5 204.9 225.6 204.2 225.7 203.5 225.7 203.9 225.8 204.0 225.9 204.3 226.0 204.5 226.0 203.4 226.1 203.1 226.2 204.9 226.2 202.0 226.3 203.3 226.4 205.8 226.4 200.8 226.5 203.1 226.6 204.8 226.7 202.0 226.7 207.0 226.8 200.9 226.9 205.6 226.9 205.8 227.0 205.0 227.1 203.7 227.1 204.3 227.2 202.8 227.3 204.9 227.4 202.6 227.4 203.6 227.5 205.1 227.6 202.5 227.6 203.4 227.7 204.1 227.8 202.3 227.8 205.2 227.9 204.2 228.0 202.0 228.1 203.8 228.1 202.9 228.2 203.0 228.3 203.9 228.3 203.0 228.4 204.9 228.5 202.9 228.5 204.9 228.6 203.7 228.7 204.8 228.8 203.1 228.8 203.1 228.9 202.4 229.0 204.4 229.0 204.8 229.1 206.2 229.2 205.2 229.2 204.0 229.3 203.4 229.4 204.2 229.5 203.6 229.5 205.4 229.6 204.8 229.7 202.7 229.7 202.8 229.8 205.3 229.9 204.0 229.9 203.4 230.0 205.0 230.1 203.2 230.2 203.3 230.2 203.1 230.3 201.3 230.4 204.6 230.4 202.1 230.5 202.9 230.6 202.7 230.6 204.4 230.7 203.5 230.8 203.6 230.9 201.5 230.9 203.4 231.0 201.8 231.1 203.9 231.1 203.9 231.2 203.5 231.3 205.9 231.3 204.1 231.4 204.2 231.5 203.6 231.6 203.2 231.6 204.6 231.7 204.8 231.8 201.9 231.8 204.7 231.9 204.0 232.0 204.6 232.0 204.0 232.1 201.9 232.2 202.0 232.3 205.6 232.3 203.7 232.4 201.7 232.5 203.8 232.5 202.9 232.6 201.1 232.7 200.6 232.7 201.4 232.8 203.7 232.9 203.3 233.0 203.0 233.0 203.6 233.1 204.0 233.2 200.8 233.2 202.9 233.3 202.3 233.4 201.8 233.4 202.6 233.5 203.1 233.6 202.9 233.7 201.5 233.7 202.7 233.8 205.6 233.9 202.0 233.9 201.2 234.0 203.5 234.1 203.9 234.1 203.8 234.2 201.8 234.3 204.4 234.4 202.2 234.4 201.8 234.5 202.4 234.6 203.0 234.6 204.0 234.7 203.9 234.8 203.1 234.8 204.3 234.9 203.2 235.0 204.2 235.1 201.4 235.1 201.2 235.2 204.0 235.3 201.4 235.3 202.7 235.4 203.0 235.5 202.5 235.5 202.5 235.6 204.7 235.7 200.0 235.8 204.1 235.8 205.8 235.9 203.1 236.0 203.0 236.0 203.9 236.1 205.2 236.2 201.6 236.2 203.1 236.3 202.8 236.4 203.7 236.5 203.2 236.5 203.8 236.6 202.5 236.7 203.1 236.7 202.2 236.8 202.2 236.9 202.8 236.9 202.8 237.0 201.6 237.1 204.9 237.2 202.8 237.2 201.3 237.3 204.3 237.4 202.1 237.4 203.6 237.5 202.9 237.6 203.3 237.6 203.2 237.7 202.3 237.8 203.0 237.9 205.4 237.9 200.3 238.0 203.0 238.1 203.3 238.1 201.4 238.2 200.9 238.3 204.9 238.3 201.8 238.4 204.6 238.5 202.6 238.6 201.9 238.6 202.2 238.7 202.2 238.8 202.7 238.8 201.7 238.9 201.2 239.0 201.1 239.0 202.4 239.1 201.6 239.2 199.2 239.3 199.8 239.3 201.1 239.4 200.1 239.5 200.5 239.5 200.0 239.6 201.0 239.7 202.0 239.7 202.8 239.8 201.8 239.9 204.4 240.0 202.0 240.0 206.1 240.1 203.6 240.2 203.2 240.2 202.1 240.3 199.5 240.4 203.0 240.4 203.7 240.5 206.1 240.6 202.4 240.7 206.7 240.7 204.4 240.8 205.8 240.9 202.2 240.9 205.7 241.0 205.4 241.1 206.9 241.1 206.5 241.2 205.3 241.3 208.1 241.4 208.1 241.4 208.3 241.5 209.1 241.6 208.9 241.6 207.1 241.7 205.1 241.8 204.6 241.8 207.4 241.9 206.2 242.0 205.1 242.1 204.0 242.1 204.1 242.2 203.7 242.3 202.8 242.3 202.1 242.4 205.5 242.5 203.2 242.5 202.2 242.6 201.4 242.7 202.1 242.8 203.8 242.8 203.9 242.9 202.7 243.0 203.0 243.0 202.6 243.1 201.7 243.2 204.5 243.2 203.4 243.3 206.0 243.4 202.1 243.5 202.8 243.5 204.1 243.6 202.7 243.7 201.4 243.7 201.9 243.8 203.1 243.9 203.4 243.9 202.9 244.0 204.2 244.1 204.2 244.2 203.4 244.2 203.1 244.3 202.7 244.4 203.7 244.4 204.2 244.5 203.1 244.6 203.6 244.6 202.7 244.7 201.4 244.8 201.9 244.9 204.0 244.9 203.6 245.0 205.0 245.1 203.2 245.1 204.1 245.2 204.7 245.3 204.3 245.3 202.4 245.4 202.9 245.5 203.3 245.6 202.0 245.6 203.7 245.7 204.4 245.8 202.6 245.8 205.5 245.9 202.8 246.0 202.9 246.0 202.9 246.1 202.3 246.2 203.7 246.3 203.2 246.3 205.2 246.4 203.9 246.5 203.8 246.5 202.9 246.6 201.5 246.7 203.1 246.7 202.2 246.8 204.4 246.9 203.2 247.0 205.2 247.0 204.1 247.1 204.2 247.2 203.5 247.2 203.5 247.3 204.0 247.4 204.4 247.4 202.4 247.5 203.9 247.6 206.4 247.7 203.2 247.7 203.0 247.8 202.5 247.9 201.6 247.9 204.7 248.0 203.4 248.1 203.7 248.1 205.5 248.2 206.3 248.3 202.3 248.4 204.6 248.4 204.1 248.5 203.8 248.6 203.9 248.6 203.4 248.7 205.3 248.8 204.1 248.8 203.8 248.9 204.9 249.0 204.5 249.1 204.0 249.1 203.8 249.2 205.5 249.3 204.0 249.3 203.3 249.4 202.4 249.5 203.0 249.5 202.2 249.6 203.6 249.7 203.8 249.8 201.0 249.8 203.5 249.9 204.3 250.0 203.7 250.0 202.4 250.1 205.0 250.2 202.7 250.2 202.1 250.3 202.2 250.4 203.5 250.5 204.7 250.5 204.9 250.6 203.8 250.7 202.1 250.7 202.8 250.8 202.5 250.9 203.4 250.9 201.5 251.0 203.7 251.1 204.4 251.2 203.4 251.2 204.2 251.3 202.5 251.4 201.9 251.4 202.9 251.5 205.0 251.6 204.9 251.6 203.1 251.7 205.1 251.8 203.3 251.9 205.5 251.9 204.3 252.0 203.1 252.1 204.6 252.1 202.8 252.2 202.6 252.3 202.0 252.3 204.0 252.4 203.7 252.5 203.7 252.6 203.3 252.6 205.5 252.7 203.3 252.8 202.9 252.8 205.3 252.9 205.5 253.0 204.2 253.0 201.7 253.1 203.1 253.2 204.6 253.3 203.9 253.3 205.7 253.4 202.2 253.5 204.7 253.5 203.1 253.6 205.5 253.7 203.8 253.7 205.1 253.8 203.1 253.9 202.2 254.0 202.6 254.0 203.2 254.1 202.7 254.2 205.4 254.2 205.6 254.3 204.3 254.4 202.8 254.4 203.9 254.5 203.2 254.6 205.8 254.7 204.4 254.7 204.6 254.8 203.6 254.9 201.7 254.9 203.2 255.0 202.8 255.1 204.5 255.1 204.2 255.2 203.2 255.3 203.7 255.4 206.0 255.4 203.0 255.5 203.1 255.6 203.9 255.6 203.4 255.7 203.7 255.8 204.8 255.8 206.3 255.9 202.1 256.0 204.2 256.1 204.3 256.1 204.2 256.2 204.1 256.3 203.9 256.3 205.5 256.4 203.8 256.5 204.2 256.5 204.3 256.6 204.5 256.7 204.2 256.8 205.6 256.8 204.4 256.9 204.6 257.0 204.4 257.0 203.2 257.1 203.5 257.2 203.2 257.2 204.7 257.3 203.6 257.4 203.2 257.5 204.8 257.5 205.1 257.6 202.5 257.7 206.6 257.7 204.6 257.8 204.5 257.9 205.9 257.9 204.7 258.0 203.9 258.1 207.2 258.2 203.4 258.2 204.5 258.3 205.7 258.4 203.4 258.4 204.6 258.5 205.2 258.6 207.6 258.6 203.7 258.7 204.7 258.8 205.6 258.9 204.9 258.9 203.4 259.0 205.3 259.1 205.0 259.1 205.4 259.2 206.2 259.3 206.1 259.3 205.4 259.4 205.3 259.5 203.6 259.6 204.8 259.6 205.2 259.7 204.5 259.8 205.1 259.8 204.0 259.9 206.8 260.0 207.6 260.0 204.6 260.1 205.5 260.2 204.8 260.3 206.6 260.3 205.6 260.4 205.2 260.5 204.9 260.5 205.3 260.6 204.0 260.7 206.0 260.7 204.4 260.8 205.9 260.9 205.4 261.0 206.5 261.0 205.3 261.1 206.5 261.2 204.2 261.2 206.0 261.3 205.1 261.4 205.6 261.4 205.5 261.5 206.5 261.6 203.0 261.7 205.8 261.7 203.7 261.8 206.9 261.9 203.2 261.9 204.3 262.0 203.6 262.1 207.5 262.1 204.1 262.2 205.7 262.3 205.0 262.4 203.5 262.4 205.3 262.5 206.5 262.6 205.5 262.6 206.8 262.7 205.3 262.8 205.8 262.8 205.4 262.9 206.2 263.0 208.1 263.1 206.3 263.1 206.1 263.2 205.2 263.3 205.1 263.3 207.7 263.4 204.7 263.5 205.0 263.5 205.9 263.6 205.6 263.7 208.4 263.8 203.4 263.8 206.6 263.9 207.0 264.0 204.9 264.0 205.5 264.1 206.8 264.2 208.2 264.2 205.2 264.3 204.5 264.4 207.5 264.5 208.2 264.5 206.0 264.6 203.8 264.7 208.1 264.7 206.3 264.8 207.8 264.9 206.5 264.9 206.1 265.0 206.1 265.1 208.3 265.2 208.3 265.2 204.2 265.3 205.6 265.4 208.8 265.4 206.3 265.5 205.2 265.6 206.8 265.6 206.7 265.7 206.7 265.8 206.3 265.9 206.6 265.9 206.4 266.0 207.4 266.1 206.1 266.1 206.7 266.2 206.9 266.3 208.6 266.3 207.5 266.4 207.0 266.5 207.8 266.6 207.7 266.6 208.5 266.7 207.8 266.8 209.3 266.8 208.9 266.9 207.3 267.0 206.9 267.0 208.4 267.1 208.0 267.2 207.3 267.3 205.8 267.3 205.4 267.4 207.9 267.5 208.4 267.5 208.5 267.6 206.1 267.7 208.8 267.7 207.0 267.8 208.1 267.9 208.2 268.0 206.8 268.0 207.1 268.1 205.4 268.2 206.8 268.2 205.8 268.3 208.4 268.4 208.0 268.4 209.0 268.5 208.4 268.6 207.3 268.7 208.4 268.7 207.6 268.8 208.8 268.9 208.5 268.9 207.0 269.0 208.2 269.1 208.2 269.1 207.8 269.2 209.3 269.3 210.2 269.4 207.9 269.4 207.9 269.5 205.8 269.6 208.2 269.6 207.9 269.7 205.9 269.8 208.8 269.8 209.1 269.9 207.7 270.0 208.1 270.1 207.4 270.1 209.4 270.2 206.9 270.3 208.3 270.3 210.9 270.4 208.7 270.5 209.2 270.5 208.6 270.6 207.4 270.7 208.7 270.8 209.3 270.8 207.7 270.9 209.3 271.0 210.3 271.0 210.1 271.1 207.1 271.2 207.9 271.2 207.2 271.3 210.3 271.4 209.8 271.5 209.9 271.5 208.1 271.6 207.8 271.7 209.3 271.7 209.3 271.8 208.2 271.9 209.4 271.9 210.0 272.0 209.6 272.1 208.1 272.2 206.9 272.2 209.1 272.3 209.6 272.4 209.1 272.4 209.0 272.5 208.7 272.6 210.3 272.6 209.5 272.7 209.7 272.8 208.5 272.9 208.9 272.9 209.8 273.0 208.5 273.1 208.3 273.1 209.4 273.2 211.1 273.3 210.0 273.3 211.5 273.4 209.7 273.5 209.5 273.6 208.3 273.6 209.3 273.7 211.6 273.8 210.4 273.8 210.8 273.9 210.8 274.0 210.1 274.0 209.9 274.1 210.3 274.2 210.9 274.3 210.7 274.3 210.8 274.4 210.4 274.5 209.4 274.5 210.0 274.6 209.3 274.7 211.5 274.7 208.0 274.8 210.2 274.9 213.1 275.0 210.1 275.0 209.2 275.1 210.5 275.2 212.0 275.2 210.4 275.3 211.3 275.4 210.8 275.4 210.3 275.5 214.2 275.6 210.8 275.7 210.2 275.7 210.2 275.8 211.2 275.9 211.3 275.9 211.7 276.0 211.1 276.1 209.3 276.1 211.6 276.2 210.6 276.3 210.7 276.4 209.4 276.4 210.4 276.5 210.3 276.6 211.1 276.6 209.5 276.7 211.3 276.8 211.4 276.8 210.0 276.9 210.6 277.0 210.4 277.1 212.4 277.1 208.5 277.2 211.0 277.3 209.6 277.3 211.0 277.4 212.4 277.5 210.8 277.5 211.7 277.6 210.6 277.7 213.8 277.8 212.7 277.8 212.9 277.9 210.2 278.0 210.5 278.0 213.0 278.1 211.6 278.2 211.5 278.2 212.2 278.3 210.5 278.4 212.8 278.5 212.0 278.5 212.5 278.6 211.2 278.7 212.6 278.7 211.3 278.8 213.1 278.9 213.4 278.9 213.2 279.0 212.7 279.1 212.9 279.2 209.2 279.2 213.2 279.3 212.0 279.4 212.4 279.4 212.0 279.5 210.8 279.6 211.8 279.6 213.2 279.7 214.0 279.8 211.8 279.9 211.5 279.9 214.2 280.0 211.6 280.1 214.9 280.1 212.7 280.2 211.7 280.3 213.8 280.3 214.6 280.4 211.2 280.5 214.5 280.6 212.5 280.6 214.5 280.7 212.5 280.8 211.2 280.8 213.5 280.9 214.0 281.0 215.3 281.0 215.0 281.1 213.9 281.2 212.9 281.3 212.6 281.3 212.9 281.4 212.3 281.5 212.9 281.5 210.5 281.6 213.5 281.7 213.3 281.7 216.2 281.8 214.2 281.9 212.9 282.0 214.1 282.0 212.1 282.1 212.9 282.2 211.5 282.2 215.2 282.3 214.3 282.4 212.4 282.4 213.6 282.5 214.7 282.6 214.3 282.7 214.2 282.7 212.9 282.8 213.1 282.9 214.0 282.9 214.9 283.0 213.0 283.1 212.7 283.1 215.2 283.2 213.0 283.3 215.2 283.4 214.3 283.4 215.1 283.5 216.0 283.6 214.9 283.6 215.1 283.7 213.2 283.8 213.5 283.8 215.0 283.9 216.0 284.0 215.9 284.1 216.9 284.1 214.8 284.2 214.7 284.3 215.6 284.3 214.6 284.4 214.5 284.5 213.5 284.5 215.7 284.6 213.5 284.7 215.3 284.8 213.2 284.8 216.0 284.9 213.7 285.0 215.7 285.0 213.1 285.1 214.4 285.2 216.2 285.2 214.1 285.3 215.1 285.4 214.5 285.5 212.6 285.5 215.4 285.6 215.6 285.7 214.0 285.7 215.8 285.8 214.4 285.9 214.2 285.9 215.3 286.0 214.6 286.1 217.8 286.2 213.7 286.2 216.2 286.3 216.5 286.4 213.4 286.4 213.7 286.5 216.2 286.6 215.1 286.6 216.1 286.7 216.9 286.8 215.3 286.9 214.6 286.9 212.9 287.0 216.1 287.1 214.9 287.1 216.2 287.2 216.2 287.3 214.5 287.3 217.9 287.4 217.2 287.5 217.0 287.6 214.9 287.6 215.7 287.7 215.6 287.8 215.8 287.8 215.1 287.9 216.8 288.0 216.6 288.0 216.8 288.1 215.9 288.2 217.8 288.3 216.7 288.3 213.6 288.4 215.9 288.5 216.5 288.5 217.7 288.6 216.4 288.7 216.5 288.7 216.1 288.8 217.5 288.9 216.4 289.0 216.2 289.0 216.1 289.1 217.6 289.2 216.4 289.2 215.3 289.3 217.7 289.4 216.4 289.4 217.5 289.5 217.6 289.6 218.5 289.7 218.4 289.7 216.7 289.8 217.2 289.9 216.0 289.9 219.2 290.0 218.0 290.1 219.0 290.1 217.2 290.2 215.5 290.3 219.3 290.4 217.8 290.4 217.9 290.5 217.8 290.6 218.5 290.6 218.4 290.7 216.2 290.8 219.1 290.8 217.4 290.9 217.6 291.0 219.9 291.1 219.1 291.1 217.8 291.2 216.3 291.3 218.4 291.3 218.9 291.4 218.3 291.5 217.1 291.5 217.6 291.6 217.2 291.7 218.7 291.8 219.4 291.8 219.7 291.9 217.9 292.0 218.9 292.0 219.3 292.1 218.3 292.2 218.7 292.2 221.1 292.3 219.1 292.4 219.9 292.5 218.6 292.5 219.1 292.6 217.3 292.7 219.1 292.7 220.4 292.8 221.4 292.9 220.5 292.9 220.0 293.0 219.4 293.1 218.8 293.2 219.3 293.2 220.1 293.3 218.7 293.4 220.6 293.4 218.6 293.5 217.8 293.6 218.7 293.6 218.1 293.7 218.4 293.8 221.0 293.9 219.7 293.9 220.2 294.0 221.2 294.1 221.3 294.1 219.6 294.2 221.5 294.3 220.6 294.3 220.2 294.4 220.7 294.5 218.8 294.6 219.5 294.6 220.3 294.7 221.1 294.8 220.1 294.8 220.4 294.9 221.6 295.0 222.1 295.0 221.4 295.1 222.0 295.2 220.3 295.3 220.5 295.3 221.2 295.4 220.6 295.5 220.4 295.5 222.7 295.6 220.8 295.7 220.1 295.7 221.6 295.8 223.0 295.9 221.3 296.0 222.5 296.0 220.8 296.1 220.8 296.2 220.7 296.2 221.3 296.3 223.3 296.4 220.3 296.4 223.2 296.5 220.6 296.6 221.4 296.7 222.5 296.7 222.3 296.8 222.0 296.9 220.1 296.9 222.2 297.0 220.8 297.1 224.5 297.1 221.7 297.2 222.2 297.3 220.9 297.4 221.6 297.4 220.8 297.5 223.2 297.6 222.0 297.6 222.8 297.7 221.6 297.8 221.8 297.8 223.7 297.9 221.5 298.0 220.7 298.1 222.9 298.1 221.4 298.2 222.2 298.3 223.5 298.3 221.9 298.4 223.6 298.5 222.1 298.5 224.3 298.6 224.2 298.7 222.4 298.8 222.7 298.8 222.1 298.9 223.2 299.0 224.2 299.0 221.7 299.1 224.0 299.2 221.9 299.2 222.4 299.3 221.5 299.4 225.4 299.5 223.4 299.5 223.6 299.6 222.8 299.7 224.5 299.7 221.4 299.8 223.6 299.9 225.8 299.9 223.3 300.0 223.7 300.1 224.4 300.2 223.0 300.2 223.8 300.3 224.8 300.4 224.1 300.4 224.3 300.5 223.6 300.6 224.3 300.6 224.1 300.7 225.5 300.8 224.8 300.9 223.9 300.9 221.8 301.0 225.0 301.1 225.0 301.1 223.4 301.2 222.4 301.3 223.3 301.3 225.4 301.4 223.5 301.5 224.1 301.6 224.8 301.6 225.8 301.7 224.6 301.8 224.6 301.8 224.2 301.9 226.4 302.0 225.9 302.0 224.8 302.1 223.6 302.2 224.2 302.3 225.6 302.3 224.3 302.4 225.9 302.5 225.5 302.5 225.4 302.6 225.8 302.7 225.7 302.7 224.5 302.8 225.0 302.9 227.6 303.0 224.2 303.0 225.0 303.1 226.5 303.2 225.4 303.2 224.8 303.3 224.3 303.4 226.2 303.4 226.7 303.5 227.1 303.6 225.8 303.7 226.8 303.7 224.9 303.8 226.1 303.9 225.3 303.9 226.2 304.0 226.7 304.1 227.1 304.1 225.2 304.2 227.4 304.3 225.7 304.4 225.3 304.4 226.1 304.5 224.9 304.6 226.4 304.6 226.7 304.7 226.3 304.8 227.0 304.8 226.2 304.9 226.6 305.0 225.2 305.1 226.7 305.1 225.9 305.2 226.3 305.3 226.7 305.3 227.0 305.4 225.3 305.5 225.4 305.5 226.7 305.6 227.4 305.7 227.4 305.8 227.9 305.8 228.3 305.9 227.6 306.0 227.2 306.0 226.3 306.1 226.4 306.2 226.9 306.2 227.6 306.3 227.6 306.4 227.5 306.5 227.3 306.5 228.1 306.6 227.8 306.7 227.9 306.7 227.9 306.8 227.2 306.9 226.8 306.9 228.2 307.0 228.2 307.1 227.7 307.2 227.5 307.2 230.1 307.3 227.3 307.4 227.8 307.4 228.3 307.5 227.0 307.6 228.3 307.6 229.9 307.7 229.1 307.8 228.9 307.9 228.9 307.9 228.5 308.0 229.3 308.1 228.3 308.1 228.1 308.2 228.6 308.3 229.4 308.3 228.9 308.4 229.3 308.5 226.8 308.6 229.9 308.6 231.0 308.7 230.1 308.8 228.6 308.8 228.1 308.9 229.2 309.0 228.1 309.0 229.7 309.1 228.6 309.2 230.0 309.3 230.4 309.3 227.4 309.4 229.5 309.5 228.7 309.5 228.1 309.6 228.8 309.7 229.2 309.7 230.4 309.8 228.1 309.9 230.5 310.0 231.5 310.0 230.2 310.1 230.2 310.2 229.7 310.2 228.7 310.3 230.3 310.4 230.2 310.4 230.6 310.5 232.3 310.6 230.7 310.7 230.4 310.7 231.5 310.8 228.9 310.9 229.1 310.9 229.9 311.0 229.7 311.1 230.9 311.1 230.0 311.2 232.0 311.3 231.8 311.4 231.2 311.4 230.2 311.5 231.1 311.6 231.3 311.6 229.7 311.7 231.0 311.8 231.4 311.8 231.0 311.9 232.2 312.0 231.9 312.1 230.1 312.1 231.0 312.2 230.2 312.3 231.5 312.3 230.3 312.4 231.9 312.5 231.5 312.5 232.1 312.6 231.1 312.7 230.0 312.8 232.9 312.8 231.2 312.9 232.6 313.0 231.8 313.0 232.1 313.1 233.2 313.2 231.9 313.2 232.9 313.3 230.3 313.4 232.5 313.5 231.5 313.5 231.7 313.6 231.8 313.7 232.2 313.7 233.4 313.8 230.3 313.9 232.0 313.9 231.4 314.0 233.1 314.1 231.7 314.2 232.6 314.2 231.8 314.3 232.8 314.4 233.2 314.4 232.0 314.5 232.4 314.6 231.2 314.6 232.7 314.7 233.2 314.8 232.0 314.9 233.6 314.9 230.8 315.0 231.0 315.1 231.5 315.1 232.3 315.2 232.8 315.3 232.8 315.3 232.8 315.4 233.5 315.5 232.5 315.6 231.9 315.6 231.9 315.7 234.9 315.8 231.1 315.8 233.0 315.9 234.5 316.0 233.7 316.0 232.6 316.1 233.3 316.2 234.1 316.3 234.5 316.3 232.7 316.4 234.2 316.5 233.8 316.5 234.5 316.6 234.8 316.7 233.4 316.7 232.5 316.8 234.1 316.9 235.3 317.0 234.4 317.0 234.1 317.1 236.0 317.2 233.1 317.2 234.8 317.3 233.6 317.4 234.1 317.4 234.2 317.5 235.5 317.6 233.4 317.7 233.8 317.7 232.9 317.8 234.8 317.9 234.0 317.9 234.8 318.0 233.6 318.1 234.2 318.1 235.4 318.2 234.4 318.3 235.2 318.4 235.1 318.4 234.4 318.5 233.4 318.6 235.6 318.6 235.0 318.7 235.7 318.8 233.2 318.8 233.6 318.9 233.2 319.0 234.3 319.1 236.0 319.1 235.6 319.2 235.2 319.3 235.3 319.3 235.9 319.4 235.1 319.5 235.7 319.5 235.5 319.6 233.6 319.7 235.1 319.8 236.6 319.8 235.2 319.9 235.5 320.0 235.1 320.0 235.3 320.1 236.7 320.2 235.5 320.2 234.9 320.3 233.3 320.4 235.4 320.5 234.3 320.5 234.4 320.6 236.7 320.7 236.6 320.7 234.5 320.8 236.8 320.9 236.5 320.9 235.6 321.0 236.9 321.1 234.9 321.2 235.3 321.2 235.2 321.3 235.5 321.4 237.2 321.4 235.4 321.5 235.6 321.6 235.8 321.6 236.8 321.7 236.4 321.8 237.4 321.9 236.1 321.9 235.7 322.0 236.4 322.1 236.9 322.1 236.1 322.2 237.1 322.3 238.4 322.3 236.5 322.4 237.1 322.5 238.2 322.6 236.6 322.6 236.5 322.7 236.3 322.8 237.5 322.8 237.7 322.9 237.2 323.0 237.4 323.0 238.4 323.1 238.1 323.2 236.3 323.3 237.5 323.3 237.6 323.4 238.1 323.5 237.4 323.5 237.1 323.6 237.3 323.7 236.3 323.7 237.7 323.8 237.3 323.9 238.2 324.0 237.0 324.0 237.5 324.1 237.1 324.2 237.1 324.2 238.6 324.3 237.7 324.4 238.4 324.4 237.2 324.5 238.2 324.6 236.8 324.7 237.9 324.7 237.9 324.8 238.8 324.9 238.5 324.9 238.2 325.0 239.1 325.1 238.6 325.1 238.9 325.2 239.1 325.3 238.5 325.4 238.4 325.4 238.9 325.5 238.4 325.6 239.0 325.6 239.6 325.7 239.5 325.8 238.5 325.8 237.9 325.9 238.9 326.0 238.9 326.1 239.9 326.1 238.7 326.2 238.9 326.3 239.7 326.3 238.8 326.4 239.1 326.5 240.6 326.5 240.4 326.6 239.8 326.7 239.5 326.8 238.6 326.8 239.8 326.9 239.5 327.0 239.7 327.0 239.1 327.1 239.5 327.2 239.5 327.2 239.9 327.3 240.8 327.4 240.0 327.5 238.5 327.5 239.0 327.6 238.6 327.7 239.2 327.7 240.3 327.8 240.2 327.9 239.5 327.9 240.2 328.0 239.4 328.1 239.0 328.2 239.0 328.2 239.5 328.3 241.3 328.4 239.2 328.4 241.2 328.5 241.3 328.6 240.2 328.6 240.3 328.7 239.9 328.8 240.4 328.9 240.9 328.9 240.5 329.0 241.3 329.1 241.4 329.1 240.8 329.2 240.9 329.3 240.6 329.3 240.9 329.4 239.9 329.5 241.0 329.6 240.9 329.6 240.1 329.7 242.4 329.8 240.1 329.8 240.2 329.9 241.1 330.0 239.5 330.0 240.4 330.1 239.9 330.2 240.3 330.3 241.0 330.3 241.3 330.4 242.0 330.5 241.8 330.5 242.1 330.6 241.7 330.7 240.9 330.7 242.1 330.8 240.9 330.9 240.9 331.0 242.5 331.0 242.0 331.1 241.6 331.2 242.0 331.2 242.1 331.3 240.5 331.4 241.4 331.4 240.7 331.5 241.7 331.6 241.1 331.7 242.6 331.7 242.0 331.8 241.1 331.9 241.7 331.9 240.8 332.0 241.8 332.1 242.2 332.1 242.0 332.2 240.4 332.3 241.6 332.4 242.2 332.4 242.1 332.5 242.8 332.6 241.0 332.6 242.3 332.7 241.5 332.8 242.1 332.8 242.3 332.9 242.5 333.0 241.6 333.1 242.2 333.1 241.2 333.2 241.1 333.3 242.6 333.3 242.1 333.4 241.0 333.5 241.6 333.5 242.2 333.6 243.4 333.7 243.0 333.8 242.9 333.8 241.0 333.9 242.3 334.0 242.7 334.0 242.7 334.1 242.7 334.2 242.3 334.2 243.7 334.3 243.5 334.4 242.4 334.5 241.8 334.5 244.0 334.6 242.1 334.7 243.4 334.7 244.0 334.8 241.9 334.9 242.8 334.9 242.4 335.0 243.0 335.1 242.9 335.2 244.1 335.2 243.1 335.3 242.7 335.4 243.6 335.4 242.6 335.5 242.5 335.6 244.4 335.6 242.2 335.7 242.5 335.8 242.9 335.9 242.1 335.9 241.4 336.0 243.7 336.1 242.4 336.1 242.6 336.2 242.7 336.3 242.3 336.3 242.2 336.4 243.2 336.5 244.8 336.6 243.6 336.6 243.6 336.7 242.0 336.8 243.1 336.8 242.3 336.9 243.7 337.0 243.0 337.0 243.2 337.1 243.2 337.2 242.8 337.3 242.2 337.3 243.7 337.4 242.3 337.5 242.5 337.5 243.1 337.6 242.8 337.7 243.5 337.7 244.1 337.8 243.6 337.9 243.5 338.0 243.4 338.0 244.1 338.1 242.2 338.2 243.7 338.2 242.8 338.3 242.6 338.4 243.5 338.4 243.3 338.5 244.0 338.6 244.4 338.7 242.0 338.7 243.6 338.8 245.0 338.9 244.3 338.9 244.7 339.0 243.8 339.1 242.7 339.1 242.9 339.2 244.2 339.3 244.4 339.4 243.3 339.4 243.6 339.5 244.0 339.6 242.6 339.6 243.6 339.7 245.0 339.8 245.4 339.8 243.8 339.9 245.2 340.0 243.6 340.1 243.4 340.1 242.4 340.2 244.7 340.3 243.7 340.3 245.7 340.4 244.3 340.5 244.2 340.5 242.8 340.6 245.1 340.7 243.9 340.8 244.0 340.8 242.6 340.9 244.8 341.0 244.9 341.0 243.8 341.1 244.3 341.2 244.5 341.2 244.9 341.3 244.3 341.4 245.5 341.5 244.1 341.5 243.9 341.6 244.0 341.7 242.6 341.7 243.8 341.8 245.1 341.9 244.6 341.9 243.8 342.0 244.7 342.1 243.1 342.2 244.3 342.2 244.8 342.3 245.0 342.4 244.0 342.4 245.2 342.5 245.8 342.6 244.3 342.6 245.1 342.7 243.5 342.8 243.3 342.9 245.1 342.9 244.7 343.0 244.8 343.1 244.3 343.1 244.5 343.2 245.3 343.3 245.9 343.3 244.6 343.4 243.6 343.5 245.7 343.6 245.2 343.6 245.3 343.7 245.0 343.8 246.4 343.8 244.9 343.9 245.2 344.0 243.6 344.0 244.5 344.1 244.5 344.2 244.9 344.3 245.2 344.3 244.5 344.4 246.2 344.5 244.3 344.5 244.7 344.6 245.2 344.7 244.2 344.7 245.5 344.8 245.5 344.9 244.9 345.0 246.4 345.0 245.2 345.1 245.3 345.2 244.5 345.2 244.0 345.3 244.8 345.4 245.0 345.4 244.9 345.5 245.8 345.6 243.6 345.7 244.5 345.7 244.0 345.8 246.2 345.9 244.9 345.9 245.0 346.0 244.6 346.1 246.0 346.1 245.1 346.2 245.5 346.3 244.0 346.4 246.2 346.4 245.7 346.5 245.8 346.6 246.3 346.6 245.4 346.7 245.4 346.8 246.0 346.8 245.8 346.9 245.4 347.0 245.6 347.1 245.2 347.1 246.1 347.2 246.2 347.3 245.6 347.3 246.9 347.4 244.6 347.5 245.5 347.5 246.8 347.6 245.4 347.7 244.6 347.8 246.6 347.8 246.1 347.9 244.9 348.0 246.3 348.0 245.1 348.1 244.9 348.2 245.7 348.2 245.5 348.3 245.1 348.4 245.6 348.5 245.2 348.5 245.9 348.6 245.9 348.7 246.4 348.7 245.6 348.8 245.0 348.9 245.1 348.9 245.8"/><path fill="none" stroke="#f00" stroke-width="1.0" stroke-linejoin="round" stroke-opacity="1" d="M24.0 257.9 24.1 257.8 24.2 257.5 24.2 257.8 24.3 257.4 24.4 257.8 24.5 257.6 24.6 257.8 24.6 257.8 24.7 257.6 24.8 257.7 24.9 257.5 25.0 257.7 25.0 257.9 25.1 258.5 25.2 257.8 25.3 257.7 25.4 257.5 25.4 257.9 25.5 257.4 25.6 257.6 25.7 257.8 25.8 257.5 25.8 258.0 25.9 258.0 26.0 257.6 26.1 257.6 26.2 257.5 26.2 257.5 26.3 257.8 26.4 257.9 26.5 257.8 26.6 257.8 26.6 257.7 26.7 257.8 26.8 257.5 26.9 257.8 27.0 258.1 27.0 258.0 27.1 257.7 27.2 257.7 27.3 258.1 27.4 258.1 27.4 257.5 27.5 257.7 27.6 257.8 27.7 258.0 27.8 257.6 27.8 257.9 27.9 257.7 28.0 258.3 28.1 257.9 28.2 257.8 28.2 257.7 28.3 258.0 28.4 257.9 28.5 257.6 28.6 257.8 28.6 257.5 28.7 257.6 28.8 257.5 28.9 257.5 29.0 257.7 29.0 257.6 29.1 257.9 29.2 257.9 29.3 257.7 29.4 257.6 29.4 257.9 29.5 257.4 29.6 257.4 29.7 257.9 29.8 257.9 29.8 257.9 29.9 257.7 30.0 257.5 30.1 257.6 30.2 257.8 30.2 257.5 30.3 257.5 30.4 257.4 30.5 257.4 30.6 257.8 30.6 257.7 30.7 257.4 30.8 257.4 30.9 257.4 31.0 257.6 31.0 257.3 31.1 257.5 31.2 257.0 31.3 257.2 31.4 257.5 31.4 257.6 31.5 257.2 31.6 257.2 31.7 257.5 31.8 257.2 31.8 257.2 31.9 257.4 32.0 257.3 32.1 257.4 32.2 257.3 32.2 257.0 32.3 257.1 32.4 257.1 32.5 256.8 32.6 256.9 32.6 257.2 32.7 256.7 32.8 257.2 32.9 257.0 33.0 256.9 33.0 257.0 33.1 257.0 33.2 257.1 33.3 256.7 33.4 256.7 33.4 256.7 33.5 257.1 33.6 256.9 33.7 256.5 33.8 256.6 33.8 256.5 33.9 256.6 34.0 256.6 34.1 257.0 34.2 256.1 34.2 256.7 34.3 256.5 34.4 256.3 34.5 256.3 34.6 256.2 34.6 256.3 34.7 256.5 34.8 255.9 34.9 256.4 35.0 256.1 35.0 256.4 35.1 256.1 35.2 256.3 35.3 256.1 35.4 256.1 35.4 255.9 35.5 255.7 35.6 255.9 35.7 255.9 35.8 256.1 35.8 255.3 35.9 255.6 36.0 255.8 36.1 255.3 36.2 255.4 36.2 255.8 36.3 255.6 36.4 255.1 36.5 255.5 36.6 255.4 36.6 255.3 36.7 255.2 36.8 255.1 36.9 254.8 37.0 254.9 37.0 255.0 37.1 254.9 37.2 255.2 37.3 254.7 37.4 254.2 37.4 254.6 37.5 254.6 37.6 254.6 37.7 254.5 37.8 254.2 37.8 254.6 37.9 254.1 38.0 254.4 38.1 254.1 38.2 253.8 38.2 254.3 38.3 253.4 38.4 253.7 38.5 253.9 38.6 253.7 38.6 253.8 38.7 253.6 38.8 253.4 38.9 253.9 39.0 253.3 39.0 253.2 39.1 252.9 39.2 252.9 39.3 253.1 39.4 253.0 39.4 252.8 39.5 252.5 39.6 252.7 39.7 252.1 39.8 252.3 39.8 252.2 39.9 251.9 40.0 252.0 40.1 251.7 40.2 251.5 40.2 251.9 40.3 251.5 40.4 251.4 40.5 251.0 40.6 251.0 40.6 250.7 40.7 250.6 40.8 250.6 40.9 249.9 41.0 249.7 41.0 249.4 41.1 248.5 41.2 248.7 41.3 248.8 41.4 248.6 41.4 248.2 41.5 248.2 41.6 248.0 41.7 247.4 41.8 247.5 41.8 247.3 41.9 246.8 42.0 246.2 42.1 246.5 42.2 245.9 42.2 245.6 42.3 245.5 42.4 245.1 42.5 245.2 42.6 244.9 42.6 244.8 42.7 244.4 42.8 243.9 42.9 243.9 43.0 243.9 43.0 243.4 43.1 243.9 43.2 243.0 43.3 242.8 43.4 242.9 43.4 242.7 43.5 242.4 43.6 242.1 43.7 242.1 43.8 242.0 43.8 241.8 43.9 241.4 44.0 241.3 44.1 241.2 44.2 241.0 44.2 240.1 44.3 240.4 44.4 240.3 44.5 240.3 44.6 240.3 44.6 240.3 44.7 240.2 44.8 240.1 44.9 240.1 45.0 240.5 45.0 240.1 45.1 240.3 45.2 240.6 45.3 240.5 45.4 240.1 45.4 240.7 45.5 240.7 45.6 240.9 45.7 241.2 45.8 241.2 45.8 241.2 45.9 241.6 46.0 241.6 46.1 241.6 46.2 241.8 46.2 241.9 46.3 242.0 46.4 242.1 46.5 242.3 46.6 242.3 46.6 242.4 46.7 243.0 46.8 242.9 46.9 243.1 47.0 243.2 47.0 243.4 47.1 243.6 47.2 243.7 47.3 243.7 47.4 244.2 47.4 244.0 47.5 244.5 47.6 244.0 47.7 244.4 47.8 244.9 47.8 244.8 47.9 244.9 48.0 245.2 48.1 245.1 48.2 245.4 48.2 245.1 48.3 245.6 48.4 245.7 48.5 246.1 48.6 246.3 48.6 246.1 48.7 246.7 48.8 246.4 48.9 246.2 49.0 246.3 49.0 247.2 49.1 247.0 49.2 247.0 49.3 247.1 49.4 247.2 49.4 247.8 49.5 247.6 49.6 248.1 49.7 247.8 49.8 247.5 49.8 248.3 49.9 248.1 50.0 248.2 50.1 248.7 50.2 248.4 50.2 248.8 50.3 248.7 50.4 248.6 50.5 249.0 50.6 248.9 50.6 249.3 50.7 249.4 50.8 249.3 50.9 249.5 51.0 249.5 51.0 249.5 51.1 249.8 51.2 249.6 51.3 249.9 51.4 249.7 51.4 250.0 51.5 250.1 51.6 250.0 51.7 250.1 51.8 250.2 51.8 250.5 51.9 250.3 52.0 250.6 52.1 250.9 52.2 250.8 52.2 250.5 52.3 250.9 52.4 251.2 52.5 251.0 52.6 251.4 52.6 251.4 52.7 251.4 52.8 251.4 52.9 251.4 53.0 251.6 53.0 251.7 53.1 251.9 53.2 252.0 53.3 251.9 53.4 252.1 53.4 252.3 53.5 252.0 53.6 252.2 53.7 252.3 53.8 252.6 53.8 252.6 53.9 252.7 54.0 252.7 54.1 253.1 54.2 253.1 54.2 252.8 54.3 253.2 54.4 253.0 54.5 253.6 54.6 253.3 54.6 253.3 54.7 253.5 54.8 253.5 54.9 253.5 55.0 253.9 55.0 253.7 55.1 253.9 55.2 254.0 55.3 253.6 55.4 254.2 55.4 254.0 55.5 254.1 55.6 253.8 55.7 254.1 55.8 254.1 55.8 253.9 55.9 254.5 56.0 254.2 56.1 254.1 56.2 254.2 56.2 254.4 56.3 254.5 56.4 254.4 56.5 254.6 56.6 254.6 56.6 254.1 56.7 254.3 56.8 254.2 56.9 254.5 57.0 254.8 57.0 254.6 57.1 254.3 57.2 254.5 57.3 254.8 57.4 254.5 57.4 254.6 57.5 254.7 57.6 254.3 57.7 254.9 57.8 254.8 57.8 254.9 57.9 254.6 58.0 254.7 58.1 254.7 58.2 254.9 58.2 254.9 58.3 255.0 58.4 255.3 58.5 255.2 58.6 254.9 58.6 254.9 58.7 255.4 58.8 255.0 58.9 255.4 59.0 255.4 59.0 255.0 59.1 255.1 59.2 255.2 59.3 255.0 59.4 255.0 59.4 255.2 59.5 255.4 59.6 255.2 59.7 255.3 59.8 255.2 59.8 255.1 59.9 255.7 60.0 254.9 60.1 255.3 60.2 255.5 60.2 255.2 60.3 255.6 60.4 255.7 60.5 255.3 60.6 255.6 60.6 255.3 60.7 255.7 60.8 255.6 60.9 255.6 61.0 255.9 61.0 255.7 61.1 255.9 61.2 255.8 61.3 255.4 61.4 255.7 61.4 255.8 61.5 255.4 61.6 256.0 61.7 255.8 61.8 255.8 61.8 255.6 61.9 255.8 62.0 255.9 62.1 255.8 62.2 255.8 62.2 255.4 62.3 256.1 62.4 255.6 62.5 255.4 62.6 255.7 62.6 255.7 62.7 256.0 62.8 255.8 62.9 256.0 63.0 255.8 63.0 256.4 63.1 256.1 63.2 256.4 63.3 255.8 63.4 256.2 63.4 255.8 63.5 256.2 63.6 256.2 63.7 255.7 63.8 255.9 63.8 255.9 63.9 255.8 64.0 256.0 64.1 255.9 64.2 255.8 64.2 256.2 64.3 256.3 64.4 255.9 64.5 256.1 64.6 256.2 64.6 256.2 64.7 256.1 64.8 256.4 64.9 256.4 65.0 256.4 65.0 256.2 65.1 256.7 65.2 256.6 65.3 256.2 65.4 256.3 65.4 256.6 65.5 256.2 65.6 256.4 65.7 256.4 65.8 256.2 65.8 256.3 65.9 256.1 66.0 256.3 66.1 256.0 66.2 256.9 66.2 256.7 66.3 256.7 66.4 256.5 66.5 256.6 66.6 256.7 66.6 256.7 66.7 256.7 66.8 256.3 66.9 256.6 67.0 256.4 67.0 256.3 67.1 256.3 67.2 256.6 67.3 256.7 67.4 256.3 67.4 256.9 67.5 256.9 67.6 256.5 67.7 256.5 67.8 256.6 67.8 256.8 67.9 256.5 68.0 256.4 68.1 256.7 68.2 256.2 68.2 256.7 68.3 256.9 68.4 256.7 68.5 256.8 68.6 256.8 68.6 256.8 68.7 256.7 68.8 256.5 68.9 256.6 69.0 256.7 69.0 256.9 69.1 257.0 69.2 256.8 69.3 256.6 69.4 256.6 69.4 256.7 69.5 257.0 69.6 256.8 69.7 256.7 69.8 256.6 69.8 256.9 69.9 256.8 70.0 256.7 70.1 256.8 70.2 257.1 70.2 256.7 70.3 257.1 70.4 257.0 70.5 256.8 70.6 257.0 70.6 256.8 70.7 256.6 70.8 256.7 70.9 256.6 71.0 256.9 71.0 256.8 71.1 256.9 71.2 257.0 71.3 256.2 71.4 256.9 71.4 256.4 71.5 256.8 71.6 256.6 71.7 256.8 71.8 257.1 71.8 256.5 71.9 256.9 72.0 256.8 72.1 256.4 72.2 257.0 72.2 256.8 72.3 256.7 72.4 256.7 72.5 257.5 72.6 256.8 72.6 256.5 72.7 256.6 72.8 256.8 72.9 256.8 73.0 256.8 73.0 256.6 73.1 257.0 73.2 256.7 73.3 256.6 73.4 256.7 73.4 256.8 73.5 257.0 73.6 257.0 73.7 256.8 73.8 256.9 73.8 256.9 73.9 257.3 74.0 256.7 74.1 257.0 74.2 257.0 74.2 256.7 74.3 256.9 74.4 256.9 74.5 256.8 74.6 257.0 74.6 257.1 74.7 257.1 74.8 256.8 74.9 256.9 75.0 257.4 75.0 256.7 75.1 256.9 75.2 257.1 75.3 256.9 75.4 257.0 75.4 256.9 75.5 257.0 75.6 257.1 75.7 256.8 75.8 256.9 75.8 256.9 75.9 256.8 76.0 256.9 76.1 256.7 76.2 257.0 76.2 257.2 76.3 257.2 76.4 257.2 76.5 256.7 76.6 257.2 76.6 256.8 76.7 256.9 76.8 257.3 76.9 256.7 77.0 257.1 77.0 257.0 77.1 256.9 77.2 256.7 77.3 257.0 77.4 256.8 77.4 257.1 77.5 257.2 77.6 256.6 77.7 256.8 77.8 256.9 77.8 256.7 77.9 256.7 78.0 256.9 78.1 256.9 78.2 256.6 78.2 256.8 78.3 257.0 78.4 256.7 78.5 256.7 78.6 257.3 78.6 257.2 78.7 256.6 78.8 256.7 78.9 257.0 79.0 256.7 79.0 256.9 79.1 256.9 79.2 257.1 79.3 256.4 79.4 256.5 79.4 256.7 79.5 257.2 79.6 256.9 79.7 256.6 79.8 257.0 79.8 257.1 79.9 256.9 80.0 256.9 80.1 257.0"/><path fill="none" stroke="#f00" stroke-width="1.15" stroke-linejoin="round" stroke-opacity="1" d="M80.1 257.0 80.2 257.2 80.2 257.0 80.3 257.1 80.4 256.9 80.5 256.9 80.6 256.8 80.6 257.0 80.7 256.9 80.8 256.9 80.9 257.1 81.0 257.1 81.0 257.1 81.1 256.6 81.2 257.1 81.3 256.8 81.4 256.8 81.4 256.8 81.5 257.2 81.6 257.1 81.7 256.8 81.8 256.7 81.8 257.0 81.9 256.9 82.0 257.3 82.1 256.7 82.2 256.6 82.2 256.9 82.3 257.0 82.4 257.0 82.5 257.1 82.6 257.4 82.6 256.9 82.7 256.9 82.8 256.6 82.9 257.0 83.0 257.2 83.0 256.9 83.1 257.2 83.2 257.0 83.3 257.3 83.4 257.1 83.4 256.8 83.5 256.9 83.6 256.7 83.7 256.6 83.8 257.0 83.8 257.2 83.9 257.4 84.0 257.0 84.1 256.9 84.2 256.8 84.2 257.2 84.3 257.1 84.4 256.9 84.5 257.1 84.6 257.1 84.6 256.6 84.7 257.1 84.8 257.0 84.9 256.9 85.0 256.9 85.0 257.3 85.1 257.3 85.2 257.4 85.3 256.8 85.4 256.9 85.4 257.2 85.5 256.8 85.6 256.9 85.7 256.6 85.8 257.4 85.8 257.2 85.9 257.1 86.0 257.0 86.1 256.9 86.2 256.9 86.2 257.1 86.3 256.9 86.4 257.2 86.5 256.9 86.6 256.8 86.6 257.3 86.7 257.0 86.8 257.1 86.9 256.9 87.0 256.5 87.0 257.1 87.1 256.7 87.2 257.2 87.3 256.7 87.4 256.6 87.4 257.1 87.5 257.1 87.6 257.0 87.7 256.8 87.8 257.2 87.8 256.7 87.9 256.9 88.0 256.8 88.1 256.9 88.2 257.2 88.2 256.9 88.3 257.1 88.4 257.1 88.5 256.7 88.6 256.8 88.6 256.9 88.7 256.9 88.8 257.1 88.9 256.6 89.0 257.1 89.0 257.1 89.1 257.0 89.2 256.7 89.3 257.0 89.4 256.9 89.4 257.1 89.5 257.0 89.6 257.1 89.7 256.9 89.8 257.2 89.8 256.5 89.9 256.7 90.0 257.0 90.1 256.6 90.2 257.1 90.2 256.7 90.3 256.9 90.4 256.7 90.5 256.8 90.6 256.9 90.6 256.9 90.7 256.8 90.8 257.3 90.9 256.9 91.0 256.7 91.0 257.0 91.1 257.0 91.2 257.1 91.3 257.2 91.4 256.6 91.4 257.0 91.5 257.0 91.6 256.8 91.7 256.8 91.8 256.2 91.8 256.7 91.9 257.1 92.0 256.4 92.1 256.6 92.2 256.8 92.2 256.8 92.3 257.0 92.4 256.3 92.5 256.7 92.6 256.9 92.6 256.4 92.7 256.7 92.8 257.0 92.9 256.9 93.0 256.7 93.0 256.1 93.1 256.6 93.2 256.7 93.3 256.5 93.4 256.6 93.4 257.2 93.5 256.5 93.6 256.3 93.7 256.6 93.8 256.4 93.8 256.4 93.9 256.5 94.0 256.6 94.1 256.5 94.2 256.2 94.2 256.4 94.3 256.5 94.4 256.3 94.5 256.6 94.6 256.5 94.6 256.2 94.7 256.4 94.8 256.8 94.9 256.7 95.0 256.3 95.0 256.5 95.1 256.2 95.2 256.0 95.3 256.4 95.4 256.3 95.4 256.3 95.5 256.2 95.6 256.3 95.7 256.1 95.8 256.3 95.8 256.3 95.9 256.1 96.0 256.3 96.1 255.8 96.2 256.0 96.2 256.4 96.3 256.5 96.4 256.1 96.5 256.0 96.6 255.8 96.6 256.1 96.7 256.2 96.8 255.7 96.9 256.1 97.0 256.1 97.0 256.1 97.1 255.7 97.2 256.1 97.3 255.6 97.4 256.2 97.4 255.9 97.5 255.6 97.6 256.1 97.7 256.1 97.8 255.7 97.8 256.3 97.9 255.6 98.0 255.9 98.1 256.0 98.2 255.3 98.2 256.0 98.3 255.7 98.4 255.7 98.5 255.5 98.6 255.8 98.6 255.5 98.7 255.5 98.8 255.6 98.9 255.4 99.0 256.0 99.0 255.4 99.1 255.5 99.2 255.6 99.3 255.6 99.4 255.8 99.4 255.7 99.5 255.5 99.6 255.5 99.7 255.6 99.8 255.7 99.8 255.7 99.9 255.4 100.0 255.1 100.1 255.9 100.2 255.7 100.2 255.5 100.3 255.5 100.4 255.3 100.5 255.2 100.6 255.4 100.6 255.4 100.7 255.3 100.8 255.1 100.9 255.3 101.0 255.5 101.0 255.3 101.1 255.4 101.2 254.9 101.3 255.3 101.4 255.3 101.4 255.1 101.5 254.9 101.6 255.4 101.7 255.1 101.8 255.4 101.8 255.2 101.9 255.4 102.0 255.2 102.1 254.9 102.2 255.2 102.2 255.1 102.3 255.3 102.4 255.1 102.5 255.1 102.6 255.4 102.6 255.4 102.7 255.3 102.8 255.4 102.9 255.2 103.0 255.3 103.0 255.3 103.1 255.2 103.2 255.1 103.3 255.1 103.4 255.6 103.4 255.1 103.5 255.0 103.6 255.0 103.7 255.0 103.8 255.1 103.8 254.8 103.9 254.6 104.0 255.0 104.1 254.6 104.2 255.0 104.2 255.0 104.3 255.2 104.4 255.2 104.5 255.0 104.6 254.8 104.6 254.6 104.7 254.7 104.8 254.8 104.9 254.4 105.0 254.8 105.0 254.8 105.1 254.9 105.2 254.7 105.3 254.7 105.4 254.6 105.4 254.6 105.5 254.3 105.6 254.7 105.7 255.0 105.8 254.6 105.8 254.7 105.9 254.4 106.0 254.8 106.1 254.3 106.2 254.7 106.2 254.5 106.3 254.2 106.4 254.6 106.5 254.4 106.6 254.4 106.6 254.4 106.7 254.3 106.8 254.2 106.9 254.3 107.0 254.1 107.0 254.2 107.1 254.0 107.2 253.8 107.3 253.9 107.4 253.9 107.4 254.0 107.5 254.2 107.6 253.5 107.7 253.9 107.8 253.3 107.8 253.5 107.9 253.6 108.0 253.2 108.1 253.3 108.2 253.7 108.2 253.6 108.3 253.5 108.4 253.3 108.5 253.9 108.6 253.4 108.6 253.2 108.7 253.7 108.8 253.4 108.9 253.2 109.0 253.5 109.0 253.2 109.1 253.3 109.2 253.2 109.3 252.9 109.4 253.3 109.4 253.1 109.5 252.8 109.6 252.8 109.7 253.1 109.8 252.8 109.8 252.9 109.9 253.0 110.0 252.8 110.1 252.4 110.2 252.9 110.2 252.9 110.3 252.9 110.4 253.0 110.5 252.7 110.6 252.8 110.6 252.9 110.7 252.5 110.8 252.9 110.9 252.9 111.0 252.6 111.0 252.8 111.1 252.6 111.2 252.2 111.3 252.6 111.4 252.4 111.4 252.4 111.5 252.3 111.6 252.5 111.7 252.3 111.8 252.0 111.8 252.3 111.9 252.3 112.0 251.9 112.1 252.0 112.2 252.0 112.2 251.9 112.3 252.1 112.4 252.2 112.5 252.4 112.6 252.2 112.6 252.1 112.7 252.1 112.8 252.1 112.9 251.7 113.0 252.0 113.0 251.8 113.1 251.7 113.2 251.6 113.3 251.6 113.4 251.6 113.4 251.4 113.5 251.7 113.6 251.6 113.7 251.6 113.8 251.6 113.8 251.7 113.9 251.4 114.0 251.4 114.1 251.1 114.2 250.9 114.2 251.0 114.3 251.7 114.4 250.9 114.5 251.4 114.6 251.6 114.6 251.2 114.7 251.6 114.8 251.6 114.9 251.4 115.0 251.7 115.0 251.3 115.1 251.0 115.2 251.2 115.3 251.0 115.4 250.7 115.4 250.7 115.5 251.5 115.6 250.8 115.7 250.9 115.8 250.8 115.8 250.9 115.9 250.8 116.0 250.7 116.1 250.5 116.2 250.5 116.2 250.6 116.3 250.8 116.4 251.2 116.5 250.9 116.6 251.1 116.6 250.7 116.7 250.6 116.8 250.3 116.9 250.5 117.0 250.0 117.0 250.4 117.1 250.8 117.2 250.5 117.3 250.7 117.4 250.3 117.4 250.0 117.5 250.2 117.6 250.2 117.7 250.5 117.8 250.7 117.8 250.0 117.9 250.1 118.0 250.1 118.1 250.0 118.2 249.8 118.2 250.1 118.3 250.1 118.4 250.1 118.5 249.7 118.6 249.9 118.6 249.5 118.7 250.1 118.8 249.6 118.9 249.7 119.0 249.7 119.0 249.6 119.1 249.4 119.2 249.2 119.3 250.0 119.4 249.7 119.4 249.6 119.5 250.0 119.6 249.5 119.7 249.6 119.8 249.4 119.8 249.7 119.9 249.5 120.0 249.4 120.1 249.2 120.2 249.3 120.2 249.5 120.3 248.7 120.4 249.1 120.5 249.0 120.6 249.0 120.6 248.5 120.7 249.2 120.8 248.7 120.9 248.9 121.0 248.8 121.0 248.4 121.1 248.7 121.2 248.3 121.3 248.5 121.4 248.6 121.4 248.6 121.5 248.6 121.6 248.5 121.7 249.0 121.8 248.6 121.8 248.1 121.9 248.3 122.0 248.2 122.1 248.3 122.2 248.1 122.2 248.0 122.3 248.6 122.4 248.2 122.5 248.0 122.6 248.0 122.6 248.0 122.7 248.4 122.8 248.1 122.9 248.2 123.0 247.1 123.0 247.9 123.1 248.1 123.2 248.3 123.3 247.7 123.4 247.3 123.4 247.8 123.5 247.4 123.6 247.1 123.7 247.4 123.8 247.7 123.8 247.7 123.9 247.6 124.0 247.1 124.1 247.9 124.2 247.0 124.2 247.2 124.3 246.8 124.4 247.5 124.5 247.2 124.6 247.3 124.6 247.0 124.7 246.9 124.8 247.0 124.9 246.4 125.0 247.1 125.0 247.0 125.1 246.6 125.2 246.7 125.3 246.7 125.4 247.0 125.4 246.7 125.5 246.5 125.6 246.4 125.7 246.1 125.8 246.2 125.8 246.4 125.9 246.2 126.0 246.3 126.1 246.4 126.2 246.3 126.2 246.2 126.3 246.3 126.4 246.1 126.5 246.0 126.6 246.1 126.6 245.5 126.7 246.2 126.8 245.5 126.9 246.0 127.0 245.7 127.0 246.0 127.1 245.7 127.2 245.4 127.3 245.9 127.4 245.6 127.4 245.5 127.5 245.5 127.6 245.7 127.7 245.6 127.8 245.4 127.8 244.8 127.9 245.1 128.0 245.2 128.1 245.6 128.2 245.2 128.2 245.0 128.3 245.3 128.4 244.9 128.5 244.9 128.6 244.9 128.6 244.4 128.7 245.0 128.8 244.8 128.9 244.6 129.0 244.3 129.0 244.6 129.1 244.9 129.2 244.3 129.3 244.2 129.4 244.5 129.4 243.9 129.5 243.7 129.6 244.1 129.7 244.0 129.8 244.1 129.8 244.0 129.9 244.2 130.0 244.0 130.1 243.8 130.2 243.8 130.2 244.1 130.3 244.1 130.4 244.0 130.5 243.9 130.6 242.8 130.6 243.4 130.7 243.5 130.8 243.6 130.9 243.1 131.0 243.9 131.0 243.5 131.1 243.2 131.2 243.4 131.3 243.2 131.4 243.0 131.4 243.3 131.5 243.0 131.6 242.7 131.7 242.8 131.8 242.9 131.8 242.6 131.9 243.2 132.0 242.5 132.1 243.3 132.2 243.0 132.2 242.4 132.3 242.7 132.4 242.9 132.5 242.5 132.6 242.1 132.6 242.5 132.7 243.0 132.8 241.9 132.9 242.4 133.0 242.2 133.0 242.1 133.1 242.0 133.2 242.0 133.3 242.3 133.4 242.2 133.4 241.6 133.5 242.3 133.6 241.4 133.7 242.0 133.8 241.8 133.8 242.0 133.9 241.7 134.0 241.9 134.1 241.5 134.2 241.7 134.2 241.5 134.3 242.0 134.4 241.1 134.5 241.6 134.6 241.3 134.6 241.2 134.7 240.9 134.8 241.2 134.9 240.5 135.0 240.5 135.0 241.1 135.1 240.3 135.2 241.2 135.3 240.6 135.4 240.7 135.4 240.6 135.5 240.7 135.6 240.4 135.7 240.3 135.8 240.3 135.8 240.6 135.9 240.6 136.0 240.6 136.1 240.3 136.2 240.0 136.2 239.5 136.3 240.2 136.4 240.2 136.5 239.8 136.6 240.1 136.6 240.2 136.7 239.7 136.8 240.0 136.9 239.7 137.0 239.0 137.0 239.3 137.1 239.3 137.2 239.6 137.3 239.1 137.4 239.1 137.4 238.9 137.5 239.1 137.6 239.1 137.7 239.4 137.8 239.2 137.8 239.0 137.9 239.0 138.0 238.9 138.1 238.8 138.2 239.2 138.2 237.8 138.3 238.5 138.4 238.6 138.5 238.8 138.6 238.1 138.6 238.5 138.7 238.6 138.8 238.1 138.9 237.6 139.0 238.0 139.0 237.7 139.1 238.2 139.2 237.7 139.3 238.5 139.4 237.9 139.4 237.5 139.5 237.5 139.6 237.3 139.7 237.7 139.8 238.0 139.8 237.4 139.9 237.7 140.0 237.0 140.1 237.4 140.2 238.0 140.2 236.7 140.3 237.5 140.4 237.4 140.5 236.3 140.6 236.4 140.6 236.5 140.7 237.1 140.8 236.6 140.9 236.6 141.0 236.8 141.0 236.6 141.1 236.5 141.2 236.3 141.3 236.7 141.4 236.0 141.4 236.8 141.5 236.0 141.6 235.8 141.7 236.2 141.8 236.1 141.8 235.2 141.9 235.9 142.0 235.3 142.1 235.4 142.2 235.9 142.2 235.2 142.3 235.6 142.4 235.3 142.5 236.0 142.6 235.2 142.6 234.8 142.7 234.7 142.8 234.7 142.9 235.0 143.0 234.9 143.0 235.2 143.1 234.8 143.2 234.7 143.3 234.7 143.4 234.5 143.4 234.6 143.5 234.7 143.6 234.6 143.7 234.0 143.8 233.5 143.8 233.8 143.9 234.1 144.0 233.0 144.1 233.7 144.2 233.9 144.2 233.5 144.3 233.2 144.4 234.2 144.5 234.0 144.6 233.3 144.6 233.8 144.7 233.7 144.8 232.7 144.9 234.0 145.0 232.6 145.0 232.7 145.1 232.3 145.2 232.7 145.3 232.0 145.4 232.4 145.4 232.7 145.5 232.3 145.6 232.0 145.7 232.6 145.8 231.6 145.8 232.2 145.9 231.6 146.0 231.7 146.1 231.5 146.2 231.5 146.2 231.3 146.3 230.9 146.4 230.9 146.5 231.2 146.6 230.9 146.6 230.3 146.7 230.4 146.8 230.3 146.9 230.5 147.0 230.5 147.0 230.4 147.1 230.0 147.2 230.1 147.3 229.5 147.4 228.8 147.4 229.8 147.5 229.1 147.6 229.3 147.7 229.1 147.8 229.8 147.8 228.9 147.9 229.4 148.0 229.0 148.1 228.7 148.2 228.4 148.2 229.2 148.3 229.1 148.4 229.1 148.5 229.5 148.6 228.8 148.6 228.7 148.7 228.4 148.8 228.4 148.9 228.2 149.0 227.9 149.0 229.0 149.1 227.3 149.2 228.1 149.3 228.1 149.4 227.9 149.4 227.3 149.5 227.6 149.6 227.4 149.7 227.0 149.8 227.4 149.8 227.1 149.9 227.0 150.0 227.5 150.1 226.6 150.2 227.2 150.2 226.6 150.3 227.0 150.4 226.8 150.5 226.8 150.6 226.2 150.6 226.2 150.7 226.0 150.8 226.4 150.9 226.6 151.0 226.6 151.0 225.9 151.1 226.0 151.2 225.2 151.3 224.8 151.4 225.3 151.4 225.3 151.5 224.9 151.6 224.7 151.7 225.6 151.8 224.9 151.8 224.5 151.9 226.2 152.0 225.1 152.1 224.8 152.2 225.2 152.2 224.4 152.3 225.4 152.4 223.9 152.5 223.9 152.6 224.4 152.6 224.0 152.7 224.9 152.8 223.4 152.9 223.7 153.0 224.1 153.0 224.2 153.1 224.3 153.2 223.9 153.3 224.6 153.4 223.3 153.4 223.5 153.5 223.8 153.6 223.1 153.7 223.1 153.8 222.9 153.8 222.7 153.9 222.4 154.0 222.6 154.1 222.0 154.2 222.8 154.2 221.8 154.3 223.4 154.4 223.2 154.5 222.8 154.6 222.1 154.6 221.9 154.7 222.6 154.8 222.0 154.9 222.1 155.0 221.4 155.0 222.2 155.1 221.2 155.2 221.5 155.3 220.6 155.4 221.0 155.4 221.5 155.5 220.9 155.6 220.8 155.7 221.3 155.8 220.8 155.8 221.4 155.9 219.5 156.0 220.9 156.1 220.7 156.2 219.7 156.2 219.7 156.3 220.7 156.4 219.6 156.5 219.7 156.6 220.2 156.6 219.7 156.7 220.0 156.8 219.3 156.9 219.7 157.0 220.0 157.0 219.6 157.1 218.3 157.2 219.5 157.3 219.2 157.4 218.6 157.4 219.6 157.5 218.0 157.6 219.7 157.7 218.4 157.8 219.4 157.8 218.5 157.9 217.7 158.0 218.3 158.1 218.4 158.2 218.4 158.2 218.5 158.3 217.5 158.4 218.1 158.5 218.1 158.6 217.5 158.6 217.1 158.7 217.0 158.8 217.7 158.9 217.7 159.0 216.7 159.0 216.4 159.1 217.6 159.2 216.1 159.3 216.8 159.4 216.3 159.4 215.7 159.5 216.5 159.6 216.3 159.7 217.0 159.8 217.3 159.8 216.0 159.9 216.5 160.0 216.4 160.1 215.5 160.2 215.2 160.2 216.4 160.3 215.3 160.4 215.3 160.5 215.1 160.6 215.1 160.6 214.7 160.7 215.3 160.8 215.5 160.9 214.6 161.0 213.9 161.0 214.6 161.1 213.7 161.2 214.0 161.3 214.9 161.4 215.3 161.4 214.2 161.5 213.3 161.6 214.2 161.7 212.5 161.8 213.2 161.8 214.3 161.9 213.8 162.0 212.5 162.1 212.3 162.2 213.5 162.2 212.9 162.3 212.5 162.4 212.9 162.5 212.3 162.6 211.5 162.6 212.8 162.7 211.9 162.8 211.6 162.9 211.3 163.0 212.1 163.0 211.4 163.1 212.1 163.2 211.5 163.3 212.1 163.4 211.2 163.4 210.9 163.5 210.1 163.6 210.4 163.7 211.3 163.8 212.5 163.8 210.0 163.9 210.0 164.0 210.6 164.1 210.6 164.2 209.8 164.2 210.1 164.3 209.1 164.4 209.7 164.5 210.2 164.6 210.5 164.6 209.4 164.7 209.2 164.8 209.5 164.9 209.7 165.0 209.2 165.0 208.4 165.1 208.9 165.2 209.1 165.3 208.0 165.4 207.5 165.4 208.4 165.5 208.2 165.6 208.4 165.7 207.8 165.8 207.2 165.8 207.2 165.9 206.7 166.0 206.6 166.1 206.7 166.2 206.5 166.2 207.3 166.3 205.8 166.4 206.4 166.5 205.9 166.6 206.9 166.6 206.1 166.7 205.6 166.8 206.1 166.9 205.5 167.0 205.0 167.0 206.1 167.1 205.4 167.2 205.9 167.3 205.4 167.4 205.0 167.4 204.5 167.5 203.6 167.6 204.5 167.7 204.0 167.8 204.2 167.8 203.7 167.9 203.1 168.0 202.8 168.1 203.6 168.2 203.9 168.2 202.8 168.3 203.1 168.4 203.5 168.5 202.0 168.6 202.2 168.6 201.5 168.7 202.8 168.8 202.1 168.9 201.5 169.0 200.7 169.0 201.5 169.1 202.1 169.2 201.1 169.3 200.9 169.4 201.5 169.4 200.2 169.5 200.9 169.6 201.1 169.7 200.1 169.8 200.0 169.8 200.5 169.9 200.2 170.0 200.0 170.1 200.2 170.2 200.1 170.2 199.2 170.3 199.3 170.4 199.9 170.5 200.2 170.6 200.2 170.6 198.7 170.7 199.9 170.8 199.5 170.9 198.9 171.0 199.2 171.0 199.3 171.1 199.8 171.2 197.9 171.3 198.8 171.4 198.3 171.4 198.1 171.5 198.9 171.6 198.6 171.7 197.3 171.8 197.7 171.8 197.9 171.9 196.8 172.0 198.1 172.1 197.4 172.2 197.5 172.2 197.5 172.3 198.4 172.4 197.1 172.5 196.8 172.6 198.0 172.6 196.5 172.7 196.4 172.8 195.7 172.9 197.2 173.0 196.6 173.0 196.6 173.1 196.3 173.2 196.0 173.3 195.5 173.4 195.4 173.4 196.1 173.5 195.8 173.6 196.7 173.7 195.0 173.8 195.1 173.8 194.6 173.9 196.1 174.0 194.3 174.1 195.5 174.2 195.8 174.2 194.7 174.3 195.1 174.4 193.1 174.5 194.2 174.6 193.2 174.6 194.3 174.7 194.1 174.8 193.5 174.9 194.5 175.0 194.0 175.0 193.3 175.1 193.2 175.2 192.4 175.3 193.1 175.4 194.6 175.4 192.5 175.5 193.2 175.6 192.4 175.7 193.2 175.8 192.8 175.8 192.2 175.9 191.0 176.0 191.7 176.1 192.8 176.2 191.6 176.2 192.1 176.3 191.2 176.4 190.1 176.5 191.5 176.6 191.3 176.6 190.5 176.7 190.5 176.8 190.8 176.9 190.0 177.0 190.5 177.0 189.9 177.1 188.2 177.2 189.6 177.3 189.1 177.4 188.7 177.4 189.4 177.5 188.5 177.6 189.1 177.7 189.2 177.8 188.4 177.8 186.9 177.9 187.3 178.0 188.3 178.1 187.2 178.2 186.6 178.2 186.9 178.3 187.1 178.4 186.7 178.5 186.8 178.6 185.5 178.6 185.6 178.7 185.4 178.8 185.4 178.9 183.6 179.0 184.8 179.0 183.7 179.1 185.5 179.2 185.4 179.3 185.3 179.4 184.4 179.4 183.2 179.5 184.1 179.6 183.0 179.7 183.4 179.8 182.1 179.8 182.1 179.9 182.7 180.0 183.5 180.1 181.9 180.2 183.4 180.2 183.6 180.3 180.3 180.4 181.1 180.5 180.2 180.6 180.7 180.6 180.2 180.7 180.4 180.8 181.0 180.9 180.8 181.0 180.1 181.0 179.7 181.1 179.6 181.2 179.5 181.3 179.6 181.4 179.0 181.4 179.2 181.5 177.6 181.6 179.1 181.7 179.7 181.8 178.3 181.8 176.9 181.9 178.9 182.0 177.4 182.1 175.1 182.2 177.1 182.2 177.6 182.3 177.3 182.4 177.8 182.5 177.1 182.6 176.6 182.6 174.7 182.7 175.2 182.8 176.1 182.9 176.4 183.0 174.8 183.0 175.0 183.1 175.7 183.2 173.7 183.3 173.5 183.4 174.7 183.4 175.0 183.5 174.2 183.6 172.6 183.7 174.4 183.8 173.1 183.8 174.6 183.9 173.8 184.0 174.0 184.1 174.2 184.2 173.1 184.2 174.1 184.3 174.3 184.4 173.5 184.5 174.2 184.6 172.4 184.6 173.6 184.7 172.9 184.8 171.8 184.9 172.4 185.0 172.0 185.0 171.8 185.1 172.3 185.2 173.0 185.3 171.7 185.4 172.0 185.4 170.6 185.5 171.8 185.6 172.6 185.7 172.2 185.8 171.8 185.8 170.9 185.9 170.4 186.0 171.1 186.1 169.9 186.2 169.9 186.2 171.7 186.3 170.0 186.4 172.2 186.5 169.4 186.6 170.9 186.6 169.5 186.7 170.5 186.8 169.4 186.9 170.3 187.0 170.0 187.0 169.7 187.1 170.4 187.2 171.2 187.3 169.3 187.4 170.5 187.4 169.8 187.5 169.6 187.6 171.4 187.7 167.6 187.8 168.8 187.8 167.8 187.9 169.0 188.0 169.0 188.1 172.4 188.2 169.3 188.2 170.5 188.3 170.0 188.4 168.4 188.5 169.1 188.6 170.1 188.6 168.7 188.7 168.7 188.8 168.9 188.9 167.1 189.0 167.6 189.0 168.5 189.1 168.6 189.2 167.3 189.3 167.7 189.4 167.8 189.4 167.7 189.5 168.4 189.6 167.8 189.7 167.8 189.8 166.3 189.8 166.6 189.9 167.7 190.0 165.9 190.1 167.5 190.2 166.6 190.2 166.4 190.3 167.6 190.4 166.3 190.5 166.1 190.6 166.2 190.6 166.7 190.7 169.0 190.8 164.7 190.9 166.4 191.0 166.1 191.0 167.1 191.1 165.8 191.2 163.9 191.3 167.2 191.4 164.9 191.4 165.8 191.5 164.5 191.6 164.7 191.7 165.1 191.8 166.2 191.8 166.1 191.9 164.7 192.0 165.6 192.1 164.8 192.2 165.1 192.2 165.0 192.3 165.4 192.4 164.2 192.5 164.5 192.6 164.7 192.6 164.5 192.7 163.6 192.8 165.8 192.9 163.8 193.0 164.8 193.0 164.2 193.1 165.0 193.2 161.8 193.3 165.5 193.4 163.4 193.4 162.4 193.5 163.5 193.6 165.4 193.7 163.7 193.8 162.0 193.8 162.6 193.9 164.2 194.0 161.6 194.1 162.6 194.2 162.4 194.2 164.5 194.3 162.2 194.4 163.6 194.5 161.7 194.6 161.5 194.6 163.0 194.7 162.6 194.8 160.3 194.9 162.4 195.0 162.3 195.0 161.0 195.1 161.7 195.2 161.7 195.3 160.9 195.4 160.7 195.4 160.5 195.5 160.8 195.6 159.7 195.7 160.8 195.8 159.3 195.8 160.7 195.9 160.4 196.0 159.5 196.1 161.1 196.2 162.0 196.2 161.4 196.3 158.8 196.4 161.1 196.5 160.0 196.6 159.7 196.6 159.1 196.7 159.5 196.8 160.7 196.9 159.8 197.0 158.8 197.0 158.5 197.1 158.6 197.2 159.5 197.3 160.6 197.4 157.7 197.4 158.6 197.5 158.2 197.6 157.7 197.7 158.7 197.8 158.7 197.8 156.8 197.9 157.0 198.0 159.0 198.1 158.1 198.2 158.2 198.2 157.1 198.3 157.1 198.4 157.8 198.5 156.8 198.6 156.1 198.6 157.1 198.7 157.8 198.8 155.9 198.9 157.8 199.0 157.3 199.0 155.8 199.1 156.5 199.2 156.3 199.3 156.9 199.4 156.8 199.4 154.8 199.5 154.7 199.6 156.8 199.7 155.9 199.8 156.0 199.8 155.9 199.9 156.9 200.0 154.2 200.1 156.3 200.2 154.3 200.2 155.7 200.3 156.2 200.4 153.5 200.5 155.1 200.6 154.3 200.6 154.2 200.7 154.4 200.8 153.3 200.9 153.2 201.0 154.7 201.0 154.8 201.1 153.3 201.2 152.3 201.3 155.9 201.4 154.6 201.4 153.8 201.5 152.3 201.6 152.6 201.7 153.3 201.8 152.0 201.8 154.4 201.9 152.9 202.0 153.0 202.1 151.5 202.2 151.5 202.2 151.5 202.3 152.5 202.4 151.8 202.5 151.7 202.6 152.2 202.6 152.0 202.7 153.1 202.8 151.3 202.9 150.4 203.0 151.3 203.0 152.6 203.1 150.5 203.2 151.0 203.3 150.5 203.4 151.2 203.4 150.9 203.5 149.7 203.6 150.2 203.7 151.2 203.8 151.3 203.8 151.0 203.9 150.8 204.0 149.5 204.1 149.4 204.2 150.5 204.2 148.3 204.3 149.3 204.4 147.4 204.5 148.8 204.6 148.3 204.6 147.7 204.7 149.4 204.8 147.9 204.9 148.2 205.0 148.2 205.0 147.6 205.1 149.6 205.2 147.6 205.3 148.1 205.4 146.5 205.4 147.2 205.5 147.3 205.6 147.1 205.7 146.7 205.8 147.4 205.8 148.7 205.9 146.8 206.0 146.7 206.1 146.3 206.2 149.2 206.2 148.1 206.3 146.9 206.4 146.9 206.5 145.4 206.6 145.8 206.6 146.0 206.7 145.8 206.8 144.7 206.9 144.7 207.0 145.9 207.0 145.5 207.1 142.9 207.2 145.0 207.3 146.1 207.4 144.0 207.4 144.8 207.5 142.9 207.6 145.2 207.7 143.0 207.8 142.8 207.8 143.6 207.9 146.3 208.0 143.1 208.1 142.3 208.2 143.9 208.2 143.6 208.3 144.9 208.4 141.8 208.5 141.3 208.6 142.5 208.6 143.1 208.7 142.9 208.8 143.6 208.9 140.8 209.0 141.3 209.0 141.9 209.1 142.8 209.2 142.3 209.3 141.3 209.4 140.5 209.4 142.4 209.5 142.3 209.6 144.0 209.7 140.9 209.8 142.7 209.8 139.5 209.9 140.1 210.0 139.8 210.1 140.0 210.2 139.4 210.2 139.6 210.3 140.0 210.4 139.5 210.5 140.5 210.6 139.6 210.6 139.6 210.7 141.0 210.8 139.7 210.9 139.4 211.0 139.1 211.0 139.0 211.1 139.5 211.2 137.9 211.3 139.8 211.4 140.2 211.4 139.6 211.5 137.7 211.6 136.4 211.7 137.5 211.8 138.0 211.8 138.7 211.9 137.4 212.0 137.2 212.1 139.0 212.2 136.6 212.2 138.3 212.3 138.0 212.4 135.5 212.5 137.1 212.6 136.1 212.6 135.6 212.7 134.5 212.8 134.6 212.9 136.7 213.0 135.7 213.0 136.3 213.1 134.7 213.2 135.4 213.3 135.4 213.4 133.9 213.4 133.6 213.5 135.8 213.6 135.4 213.7 134.1 213.8 134.9 213.8 135.6 213.9 136.7 214.0 133.6 214.1 135.2 214.2 136.7 214.2 134.3 214.3 135.8 214.4 131.2 214.5 135.5 214.6 133.8 214.6 131.6 214.7 134.5 214.8 134.6 214.9 134.7 215.0 134.6 215.0 133.1 215.1 132.2 215.2 132.4 215.3 132.8 215.4 133.1 215.4 132.0 215.5 132.5 215.6 133.3 215.7 132.6 215.8 134.7 215.8 134.4 215.9 130.6 216.0 131.2 216.1 130.2 216.2 130.3 216.2 132.1 216.3 130.2 216.4 130.0 216.5 130.8 216.6 131.9 216.6 130.5 216.7 130.4 216.8 131.7 216.9 131.1 217.0 131.0 217.0 131.4 217.1 129.1 217.2 130.4 217.3 129.3 217.4 131.0 217.4 130.7 217.5 128.5 217.6 131.1 217.7 128.1 217.8 130.6 217.8 129.4 217.9 128.1 218.0 127.7 218.1 128.5 218.2 128.7 218.2 127.8 218.3 129.1 218.4 126.7 218.5 128.2 218.6 128.1 218.6 125.8 218.7 128.2 218.8 126.3 218.9 124.7 219.0 126.8 219.0 127.1 219.1 128.3 219.2 126.6 219.3 128.7 219.4 128.5 219.4 128.0 219.5 128.2 219.6 126.9 219.7 125.7 219.8 127.0 219.8 127.3 219.9 126.3 220.0 125.6 220.1 123.9 220.2 126.5 220.2 126.0 220.3 123.9 220.4 125.4 220.5 126.0 220.6 124.9 220.6 125.9 220.7 125.7 220.8 123.0 220.9 124.3 221.0 125.1 221.0 125.5 221.1 126.0 221.2 121.9 221.3 124.0 221.4 124.8 221.4 125.3 221.5 125.8 221.6 122.6 221.7 123.1 221.8 122.2 221.8 124.3 221.9 121.7 222.0 124.6 222.1 124.2 222.2 123.6 222.2 120.3 222.3 122.0 222.4 123.6 222.5 121.0 222.6 122.3 222.6 122.4 222.7 123.5 222.8 122.7 222.9 122.6 223.0 121.7 223.0 122.1 223.1 121.9 223.2 122.9 223.3 121.7 223.4 123.1 223.4 119.8 223.5 123.2 223.6 121.5 223.7 123.0 223.8 121.6 223.8 122.5 223.9 123.2 224.0 120.7 224.1 121.4 224.2 121.0 224.2 121.4 224.3 119.2 224.4 120.9 224.5 120.7 224.6 120.0 224.6 120.7 224.7 119.0 224.8 122.5 224.9 121.3 225.0 123.0 225.0 119.6 225.1 119.2 225.2 120.9 225.3 118.4 225.4 120.7 225.4 119.5 225.5 119.9 225.6 120.6 225.7 120.3 225.8 122.4 225.8 120.9 225.9 118.5 226.0 121.2 226.1 118.3 226.2 120.0 226.2 118.4 226.3 118.8 226.4 121.4 226.5 119.1 226.6 118.9 226.6 119.0 226.7 119.2 226.8 121.3 226.9 118.1 227.0 118.0 227.0 120.1 227.1 117.4 227.2 118.9 227.3 120.7 227.4 119.3 227.4 118.6 227.5 118.3 227.6 118.0 227.7 118.4 227.8 119.2 227.8 120.5 227.9 120.2 228.0 118.2 228.1 118.0 228.2 119.7 228.2 116.6 228.3 118.2 228.4 118.3 228.5 117.3 228.6 117.4 228.6 119.0 228.7 116.5 228.8 117.4 228.9 117.7 229.0 118.6 229.0 116.7 229.1 119.7 229.2 118.0 229.3 118.0 229.4 117.8 229.4 117.4 229.5 117.0 229.6 119.6 229.7 118.4 229.8 118.0 229.8 119.3 229.9 117.1 230.0 118.8 230.1 118.0 230.2 116.8 230.2 118.8 230.3 116.0 230.4 118.6 230.5 116.7 230.6 118.3 230.6 119.4 230.7 118.4 230.8 116.9 230.9 117.6 231.0 117.1 231.0 116.1 231.1 116.2 231.2 117.6 231.3 118.1 231.4 115.3 231.4 117.3 231.5 118.0 231.6 117.5 231.7 116.1 231.8 118.6 231.8 115.8 231.9 118.0 232.0 119.2 232.1 114.6 232.2 117.5 232.2 117.5 232.3 117.4 232.4 116.1 232.5 116.6 232.6 115.3 232.6 117.1 232.7 117.6 232.8 116.1 232.9 115.7 233.0 116.3 233.0 116.8 233.1 116.9 233.2 116.6 233.3 116.8 233.4 115.1 233.4 113.3 233.5 117.4 233.6 118.4 233.7 114.8 233.8 115.7 233.8 116.9 233.9 117.7 234.0 117.3 234.1 118.0 234.2 116.3 234.2 116.8 234.3 116.7 234.4 115.6 234.5 117.5 234.6 116.7 234.6 117.1 234.7 115.3 234.8 117.0 234.9 114.3 235.0 116.0 235.0 112.2 235.1 114.1 235.2 116.2 235.3 114.6 235.4 115.3 235.4 113.0 235.5 116.8 235.6 115.6 235.7 114.7 235.8 115.2 235.8 115.0 235.9 116.3 236.0 114.7 236.1 112.5 236.2 113.9 236.2 115.8 236.3 114.8 236.4 113.5 236.5 114.7 236.6 114.0 236.6 114.5 236.7 111.7 236.8 112.5 236.9 114.3 237.0 113.1 237.0 113.8 237.1 115.7 237.2 112.8 237.3 113.4 237.4 112.3 237.4 112.2 237.5 112.8 237.6 111.0 237.7 110.1 237.8 114.3 237.8 112.4 237.9 113.9 238.0 112.6 238.1 112.5 238.2 113.1 238.2 113.1 238.3 110.6 238.4 113.6 238.5 110.8 238.6 112.2 238.6 115.0 238.7 111.7 238.8 113.5 238.9 110.9 239.0 111.9 239.0 111.0 239.1 111.3 239.2 109.6 239.3 109.3 239.4 110.7 239.4 108.2 239.5 108.9 239.6 110.6 239.7 108.9 239.8 108.4 239.8 107.9 239.9 109.3 240.0 108.5 240.1 109.0 240.2 108.4 240.2 110.8 240.3 108.0 240.4 106.9 240.5 110.2 240.6 110.8 240.6 111.7 240.7 110.2 240.8 114.4 240.9 113.7 241.0 114.6 241.0 113.6 241.1 117.1 241.2 117.4 241.3 120.2 241.4 118.9 241.4 118.9 241.5 121.6 241.6 121.2 241.7 122.0 241.8 119.3 241.8 119.6 241.9 118.7 242.0 118.0 242.1 116.6 242.2 115.4 242.2 115.4 242.3 114.2 242.4 115.1 242.5 114.5 242.6 112.1 242.6 114.8 242.7 116.6 242.8 115.2 242.9 115.6 243.0 115.4 243.0 114.3 243.1 113.2 243.2 115.9 243.3 116.2 243.4 115.6 243.4 115.4 243.5 115.4 243.6 114.8 243.7 115.2 243.8 114.9 243.8 115.3 243.9 113.7 244.0 114.1 244.1 115.6 244.2 114.5 244.2 111.9 244.3 115.0 244.4 112.1 244.5 117.2 244.6 115.8 244.6 115.7 244.7 114.1 244.8 113.6 244.9 114.7 245.0 115.0 245.0 114.0 245.1 115.2 245.2 115.8 245.3 115.7 245.4 113.7 245.4 112.4 245.5 115.0 245.6 114.2 245.7 115.6 245.8 117.1 245.8 117.1 245.9 115.4 246.0 116.4 246.1 117.1 246.2 115.2 246.2 115.5 246.3 116.2 246.4 115.1 246.5 114.6 246.6 114.3 246.6 115.2 246.7 114.5 246.8 116.2 246.9 114.8 247.0 117.0 247.0 116.7 247.1 113.8 247.2 116.6 247.3 114.8 247.4 117.0 247.4 116.0 247.5 115.3 247.6 116.2 247.7 114.7 247.8 115.8 247.8 115.9 247.9 115.3 248.0 115.9 248.1 114.3 248.2 116.2 248.2 114.0 248.3 116.3 248.4 116.1 248.5 116.4 248.6 114.9 248.6 119.2 248.7 115.3 248.8 115.8 248.9 114.7 249.0 117.4 249.0 115.1 249.1 116.9 249.2 114.5 249.3 116.1 249.4 115.3 249.4 116.8 249.5 115.4 249.6 114.7 249.7 116.3 249.8 114.4 249.8 114.7 249.9 116.7 250.0 113.6 250.1 116.8 250.2 115.4 250.2 114.8 250.3 116.2 250.4 116.7 250.5 115.2 250.6 115.8 250.6 116.9 250.7 116.9 250.8 116.0 250.9 115.1 251.0 114.9 251.0 115.4 251.1 116.9 251.2 116.8 251.3 116.5 251.4 117.8 251.4 115.8 251.5 115.7 251.6 115.8 251.7 118.5 251.8 113.8 251.8 116.6 251.9 116.8 252.0 116.4 252.1 119.1 252.2 117.8 252.2 117.3 252.3 115.3 252.4 117.0 252.5 116.0 252.6 116.5 252.6 116.7 252.7 115.9 252.8 117.3 252.9 118.5 253.0 117.8 253.0 116.9 253.1 114.3 253.2 117.9 253.3 118.0 253.4 116.5 253.4 116.2 253.5 117.5 253.6 115.8 253.7 117.8 253.8 115.6 253.8 115.8 253.9 116.9 254.0 115.2 254.1 117.0 254.2 117.6 254.2 115.5 254.3 118.1 254.4 116.4 254.5 117.7 254.6 117.4 254.6 116.6 254.7 116.6 254.8 115.2 254.9 116.4 255.0 116.4 255.0 119.2 255.1 118.5 255.2 115.8 255.3 118.3 255.4 117.7 255.4 117.0 255.5 118.0 255.6 118.5 255.7 116.9 255.8 117.3 255.8 117.8 255.9 116.5 256.0 117.9 256.1 117.6 256.2 117.0 256.2 116.8 256.3 118.2 256.4 118.9 256.5 118.3 256.6 116.9 256.6 118.8 256.7 118.2 256.8 118.7 256.9 119.4 257.0 117.1 257.0 118.0 257.1 117.5 257.2 117.2 257.3 120.6 257.4 119.4 257.4 116.3 257.5 118.8 257.6 117.7 257.7 119.8 257.8 118.5 257.8 118.3 257.9 118.7 258.0 119.0 258.1 118.6 258.2 118.4 258.2 118.5 258.3 119.3 258.4 117.4 258.5 118.8 258.6 118.7 258.6 118.3 258.7 119.7 258.8 117.4 258.9 118.5 259.0 118.0 259.0 119.7 259.1 118.5 259.2 119.2 259.3 119.6 259.4 117.3 259.4 119.7 259.5 118.4 259.6 119.0 259.7 119.2 259.8 120.3 259.8 120.3 259.9 121.5 260.0 119.7 260.1 119.0 260.2 119.0 260.2 120.4 260.3 121.5 260.4 120.1 260.5 119.1 260.6 120.1 260.6 120.1 260.7 119.9 260.8 119.0 260.9 117.0 261.0 119.4 261.0 121.2 261.1 120.3 261.2 117.6 261.3 120.2 261.4 118.1 261.4 122.5 261.5 120.5 261.6 119.0 261.7 121.3 261.8 119.6 261.8 121.1 261.9 120.6 262.0 119.2 262.1 121.4 262.2 119.2 262.2 122.3 262.3 120.9 262.4 119.7 262.5 118.9 262.6 122.8 262.6 122.7 262.7 119.7 262.8 123.0 262.9 121.4 263.0 121.0 263.0 121.3 263.1 121.1 263.2 123.1 263.3 121.7 263.4 119.5 263.4 124.1 263.5 122.8 263.6 120.6 263.7 121.5 263.8 120.9 263.8 122.1 263.9 122.6 264.0 122.4 264.1 121.6 264.2 121.4 264.2 123.4 264.3 122.4 264.4 125.1 264.5 121.7 264.6 123.6 264.6 122.8 264.7 122.0 264.8 124.5 264.9 123.1 265.0 122.1 265.0 122.8 265.1 124.4 265.2 121.9 265.3 124.9 265.4 124.2 265.4 123.2 265.5 125.1 265.6 125.6 265.7 124.4 265.8 124.0 265.8 126.0 265.9 125.7 266.0 123.0 266.1 123.9 266.2 124.0 266.2 123.8 266.3 122.7 266.4 125.4 266.5 124.6 266.6 124.7 266.6 126.2 266.7 124.1 266.8 124.7 266.9 125.2 267.0 124.4 267.0 124.9 267.1 125.9 267.2 125.1 267.3 126.7 267.4 124.4 267.4 125.6 267.5 123.8 267.6 125.4 267.7 124.8 267.8 127.2 267.8 126.6 267.9 126.4 268.0 127.9 268.1 127.6 268.2 126.8 268.2 125.3 268.3 124.5 268.4 126.2 268.5 125.9 268.6 125.7 268.6 126.1 268.7 124.7 268.8 128.3 268.9 125.4 269.0 126.0 269.0 127.5 269.1 125.1 269.2 128.0 269.3 128.1 269.4 126.8 269.4 126.0 269.5 126.7 269.6 125.3 269.7 129.0 269.8 127.6 269.8 126.8 269.9 126.6 270.0 128.4 270.1 129.5 270.2 126.5 270.2 127.3 270.3 126.1 270.4 128.9 270.5 128.4 270.6 130.8 270.6 128.2 270.7 127.9 270.8 127.7 270.9 129.5 271.0 126.8 271.0 129.6 271.1 129.1 271.2 128.3 271.3 128.0 271.4 130.2 271.4 131.2 271.5 128.7 271.6 129.9 271.7 131.3 271.8 128.7 271.8 129.2 271.9 128.2 272.0 129.5 272.1 129.7 272.2 129.4 272.2 129.1 272.3 128.2 272.4 128.6 272.5 129.1 272.6 130.9 272.6 129.7 272.7 129.5 272.8 131.2 272.9 131.2 273.0 129.8 273.0 130.0 273.1 131.5 273.2 131.3 273.3 130.0 273.4 131.3 273.4 131.1 273.5 132.4 273.6 130.3 273.7 132.3 273.8 131.9 273.8 130.4 273.9 132.8 274.0 132.7 274.1 130.3 274.2 134.0 274.2 130.7 274.3 131.0 274.4 131.7 274.5 133.0 274.6 132.9 274.6 132.2 274.7 133.9 274.8 132.9 274.9 134.1 275.0 135.7 275.0 132.9 275.1 130.0 275.2 132.4 275.3 131.8 275.4 133.2 275.4 133.2 275.5 131.9 275.6 132.0 275.7 133.1 275.8 133.2 275.8 130.7 275.9 134.7 276.0 133.7 276.1 133.8 276.2 134.2 276.2 132.8 276.3 134.0 276.4 135.2 276.5 135.3 276.6 134.7 276.6 134.0 276.7 133.5 276.8 135.9 276.9 135.1 277.0 134.2 277.0 132.3 277.1 133.8 277.2 132.8 277.3 136.3 277.4 135.2 277.4 134.3 277.5 134.8 277.6 138.1 277.7 136.6 277.8 133.9 277.8 135.3 277.9 134.2 278.0 133.7 278.1 135.9 278.2 138.4 278.2 137.5 278.3 135.9 278.4 135.6 278.5 136.3 278.6 137.2 278.6 134.6 278.7 134.2 278.8 138.4 278.9 136.7 279.0 138.3 279.0 136.8 279.1 138.3 279.2 136.1 279.3 137.4 279.4 138.6 279.4 138.1 279.5 136.6 279.6 138.1 279.7 136.5 279.8 135.7 279.8 137.9 279.9 139.0 280.0 138.5 280.1 136.3 280.2 138.7 280.2 138.5 280.3 137.4 280.4 135.3 280.5 139.2 280.6 139.1 280.6 138.8 280.7 136.4 280.8 136.8 280.9 139.6 281.0 139.5 281.0 139.2 281.1 138.5 281.2 139.3 281.3 138.4 281.4 138.7 281.4 138.2 281.5 139.5 281.6 138.9 281.7 140.5 281.8 140.3 281.8 138.8 281.9 141.7 282.0 138.6 282.1 140.5 282.2 141.2 282.2 141.6 282.3 137.9 282.4 141.5 282.5 141.8 282.6 142.2 282.6 138.4 282.7 140.1 282.8 140.9 282.9 140.6 283.0 142.6 283.0 140.6 283.1 142.8 283.2 142.2 283.3 140.1 283.4 140.7 283.4 141.4 283.5 142.1 283.6 143.2 283.7 142.1 283.8 143.4 283.8 140.9 283.9 139.4 284.0 142.4 284.1 143.4 284.2 142.7 284.2 142.1 284.3 143.7 284.4 145.5 284.5 143.4 284.6 142.9 284.6 142.9 284.7 146.0 284.8 144.0 284.9 144.8 285.0 145.6 285.0 145.6 285.1 143.6 285.2 145.7 285.3 145.7 285.4 145.5 285.4 146.2 285.5 144.7 285.6 145.3 285.7 144.9 285.8 146.4 285.8 145.1 285.9 146.3 286.0 144.9 286.1 146.0 286.2 145.9 286.2 146.3 286.3 146.7 286.4 146.5 286.5 146.6 286.6 144.8 286.6 148.2 286.7 146.5 286.8 147.0 286.9 146.6 287.0 148.6 287.0 146.8 287.1 148.3 287.2 149.2 287.3 149.8 287.4 149.4 287.4 149.0 287.5 147.3 287.6 149.9 287.7 150.0 287.8 149.8 287.8 149.9 287.9 149.3 288.0 148.8 288.1 150.6 288.2 150.9 288.2 148.7 288.3 150.8 288.4 150.3 288.5 151.1 288.6 150.6 288.6 151.6 288.7 151.6 288.8 151.6 288.9 149.5 289.0 151.9 289.0 151.2 289.1 150.2 289.2 152.2 289.3 150.3 289.4 152.6 289.4 153.6 289.5 151.5 289.6 153.1 289.7 152.8 289.8 153.1 289.8 151.3 289.9 153.4 290.0 153.0 290.1 153.8 290.2 153.2 290.2 154.4 290.3 153.7 290.4 154.2 290.5 155.0 290.6 154.0 290.6 154.9 290.7 154.3 290.8 154.8 290.9 153.9 291.0 155.3 291.0 155.8 291.1 154.7 291.2 155.6 291.3 155.4 291.4 154.1 291.4 155.6 291.5 156.6 291.6 155.0 291.7 153.9 291.8 155.9 291.8 155.2 291.9 157.7 292.0 156.0 292.1 156.1 292.2 155.7 292.2 156.6 292.3 155.9 292.4 155.7 292.5 156.6 292.6 156.0 292.6 158.1 292.7 155.8 292.8 157.0 292.9 156.5 293.0 155.9 293.0 158.8 293.1 155.4 293.2 158.8 293.3 156.2 293.4 157.7 293.4 159.8 293.5 155.8 293.6 156.6 293.7 159.2 293.8 158.2 293.8 157.6 293.9 158.2 294.0 157.4 294.1 158.5 294.2 159.8 294.2 158.1 294.3 158.7 294.4 159.7 294.5 160.5 294.6 158.2 294.6 159.1 294.7 158.4 294.8 158.4 294.9 158.7 295.0 158.6 295.0 157.6 295.1 157.5 295.2 158.7 295.3 159.5 295.4 160.6 295.4 159.1 295.5 159.5 295.6 160.3 295.7 160.5 295.8 159.8 295.8 159.9 295.9 161.7 296.0 159.8 296.1 159.7 296.2 158.7 296.2 160.7 296.3 160.1 296.4 162.2 296.5 160.2 296.6 161.3 296.6 161.5 296.7 162.3 296.8 159.7 296.9 162.3 297.0 161.0 297.0 161.0 297.1 160.9 297.2 160.9 297.3 161.0 297.4 159.3 297.4 162.0 297.5 161.7 297.6 160.9 297.7 161.8 297.8 164.0 297.8 162.3 297.9 161.7 298.0 163.7 298.1 161.6 298.2 162.3 298.2 162.0 298.3 162.4 298.4 163.3 298.5 163.3 298.6 162.2 298.6 162.9 298.7 163.2 298.8 162.9 298.9 163.3 299.0 162.8 299.0 162.9 299.1 163.7 299.2 162.8 299.3 164.2 299.4 163.8 299.4 163.3 299.5 163.7 299.6 163.9 299.7 164.3 299.8 164.6 299.8 164.5 299.9 164.0 300.0 166.1 300.1 165.8 300.2 165.2 300.2 166.1 300.3 165.6 300.4 165.2 300.5 165.7 300.6 168.0 300.6 166.7 300.7 166.8 300.8 165.7 300.9 166.7 301.0 168.2 301.0 166.8 301.1 167.5 301.2 167.7 301.3 167.3 301.4 168.3 301.4 167.2 301.5 167.6 301.6 166.7 301.7 169.7 301.8 167.8 301.8 167.8 301.9 169.0 302.0 167.5 302.1 168.0 302.2 167.5 302.2 168.3 302.3 168.1 302.4 169.0 302.5 168.6 302.6 168.3 302.6 168.7 302.7 169.0 302.8 168.8 302.9 170.1 303.0 170.0 303.0 169.7 303.1 168.7 303.2 170.3 303.3 168.9 303.4 170.2 303.4 170.3 303.5 169.9 303.6 169.8 303.7 170.0 303.8 172.4 303.8 170.7 303.9 170.9 304.0 172.0 304.1 171.6 304.2 172.3 304.2 170.6 304.3 170.8 304.4 174.6 304.5 172.0 304.6 171.9 304.6 172.4 304.7 173.2 304.8 171.6 304.9 173.0 305.0 172.9 305.0 173.6 305.1 173.3 305.2 172.9 305.3 172.8 305.4 171.7 305.4 174.6 305.5 172.8 305.6 173.8 305.7 175.6 305.8 174.1 305.8 175.0 305.9 174.5 306.0 175.4 306.1 175.0 306.2 174.7 306.2 176.4 306.3 175.2 306.4 174.6 306.5 175.5 306.6 176.3 306.6 175.2 306.7 176.8 306.8 177.0 306.9 178.2 307.0 176.2 307.0 177.3 307.1 175.7 307.2 176.8 307.3 177.4 307.4 177.8 307.4 177.6 307.5 177.7 307.6 177.4 307.7 177.7 307.8 178.4 307.8 178.8 307.9 179.0 308.0 179.4 308.1 179.7 308.2 177.6 308.2 178.7 308.3 179.1 308.4 178.9 308.5 180.3 308.6 180.3 308.6 179.8 308.7 180.1 308.8 181.1 308.9 180.0 309.0 180.2 309.0 181.2 309.1 181.1 309.2 181.9 309.3 181.3 309.4 181.7 309.4 180.9 309.5 180.7 309.6 181.5 309.7 179.7 309.8 182.1 309.8 182.7 309.9 182.1 310.0 182.1 310.1 183.1 310.2 182.5 310.2 183.3 310.3 184.3 310.4 183.4 310.5 183.7 310.6 183.5 310.6 183.4 310.7 183.6 310.8 183.6 310.9 184.4 311.0 182.6 311.0 183.7 311.1 184.5 311.2 183.5 311.3 184.2 311.4 183.9 311.4 184.8 311.5 185.2 311.6 185.8 311.7 185.2 311.8 184.4 311.8 185.3 311.9 185.6 312.0 186.3 312.1 183.9 312.2 185.8 312.2 184.4 312.3 186.3 312.4 186.2 312.5 186.4 312.6 186.7 312.6 186.5 312.7 185.9 312.8 186.7 312.9 187.4 313.0 186.6 313.0 186.8 313.1 186.1 313.2 187.9 313.3 186.8 313.4 186.8 313.4 187.1 313.5 186.9 313.6 187.4 313.7 188.6 313.8 188.4 313.8 188.9 313.9 189.1 314.0 187.6 314.1 188.6 314.2 189.5 314.2 190.1 314.3 187.7 314.4 187.8 314.5 189.2 314.6 188.8 314.6 188.4 314.7 189.5 314.8 188.8 314.9 187.9 315.0 189.6 315.0 189.8 315.1 190.3 315.2 190.6 315.3 190.2 315.4 190.0 315.4 189.9 315.5 189.3 315.6 190.3 315.7 191.3 315.8 191.2 315.8 192.3 315.9 190.9 316.0 190.0 316.1 191.8 316.2 192.1 316.2 190.8 316.3 190.6 316.4 191.9 316.5 192.4 316.6 191.3 316.6 192.0 316.7 191.8 316.8 191.7 316.9 191.7 317.0 192.8 317.0 192.6 317.1 192.5 317.2 191.4 317.3 194.4 317.4 192.8 317.4 193.5 317.5 193.0 317.6 194.1 317.7 193.0 317.8 194.2 317.8 194.2 317.9 195.0 318.0 193.9 318.1 194.3 318.2 194.7 318.2 196.4 318.3 194.2 318.4 195.5 318.5 195.1 318.6 195.8 318.6 196.2 318.7 196.0 318.8 196.2 318.9 196.4 319.0 196.0 319.0 196.4 319.1 195.6 319.2 196.6 319.3 196.5 319.4 197.0 319.4 197.7 319.5 197.7 319.6 197.9 319.7 198.4 319.8 196.4 319.8 198.3 319.9 198.1 320.0 198.2 320.1 197.6 320.2 198.9 320.2 199.4 320.3 199.5 320.4 199.0 320.5 199.5 320.6 199.8 320.6 200.5 320.7 200.3 320.8 199.8 320.9 199.9 321.0 200.1 321.0 200.2 321.1 199.9 321.2 200.8 321.3 200.1 321.4 200.2 321.4 201.0 321.5 200.6 321.6 200.9 321.7 200.0 321.8 201.8 321.8 201.5 321.9 201.5 322.0 202.0 322.1 202.0 322.2 201.6 322.2 203.3 322.3 202.0 322.4 203.0 322.5 203.6 322.6 202.3 322.6 202.9 322.7 202.5 322.8 203.7 322.9 203.0 323.0 202.7 323.0 204.2 323.1 204.1 323.2 203.2 323.3 204.5 323.4 204.1 323.4 205.6 323.5 205.2 323.6 204.0 323.7 204.3 323.8 204.1 323.8 204.8 323.9 204.8 324.0 205.4 324.1 205.1 324.2 204.3 324.2 204.8 324.3 206.2 324.4 206.2 324.5 205.5 324.6 205.7 324.6 205.8 324.7 206.0 324.8 205.1 324.9 206.7 325.0 205.9 325.0 206.5 325.1 205.1 325.2 206.7 325.3 207.4 325.4 205.6 325.4 207.7 325.5 207.3 325.6 206.7 325.7 206.3 325.8 207.9 325.8 207.5 325.9 207.8 326.0 207.4 326.1 207.3 326.2 208.3 326.2 207.4 326.3 208.5 326.4 207.2 326.5 207.7 326.6 207.5 326.6 209.1 326.7 207.5 326.8 207.9 326.9 209.0 327.0 208.9 327.0 210.0 327.1 209.9 327.2 209.3 327.3 209.5 327.4 208.2 327.4 208.8 327.5 209.2 327.6 209.4 327.7 208.8 327.8 209.1 327.8 209.3 327.9 210.4 328.0 210.1 328.1 209.8 328.2 209.9 328.2 210.3 328.3 209.9 328.4 210.2 328.5 209.5 328.6 210.9 328.6 211.1 328.7 210.9 328.8 211.0 328.9 211.0 329.0 212.0 329.0 211.1 329.1 210.4 329.2 210.6 329.3 211.6 329.4 211.9 329.4 211.8 329.5 212.0 329.6 211.7 329.7 210.9 329.8 211.4 329.8 210.9 329.9 211.7 330.0 211.3 330.1 212.1 330.2 212.1 330.2 211.2 330.3 212.7 330.4 212.8 330.5 211.8 330.6 212.6 330.6 213.0 330.7 212.6 330.8 213.2 330.9 213.0 331.0 213.5 331.0 213.1 331.1 213.0 331.2 213.5 331.3 213.7 331.4 213.5 331.4 213.2 331.5 213.1 331.6 213.4 331.7 213.4 331.8 213.9 331.8 213.9 331.9 213.9 332.0 214.0 332.1 214.2 332.2 214.9 332.2 214.8 332.3 214.0 332.4 214.6 332.5 214.3 332.6 214.5 332.6 214.5 332.7 214.4 332.8 214.1 332.9 213.6 333.0 215.0 333.0 215.6 333.1 214.7 333.2 215.4 333.3 215.1 333.4 215.5 333.4 215.0 333.5 215.4 333.6 215.5 333.7 214.5 333.8 215.8 333.8 215.8 333.9 214.7 334.0 216.3 334.1 216.0 334.2 216.2 334.2 216.4 334.3 216.1 334.4 215.8 334.5 216.2 334.6 216.3 334.6 217.7 334.7 217.6 334.8 216.5 334.9 216.6 335.0 217.1 335.0 217.3 335.1 216.7 335.2 216.7 335.3 218.2 335.4 217.8 335.4 216.6 335.5 216.6 335.6 217.1 335.7 217.7 335.8 217.9 335.8 217.6 335.9 217.1 336.0 218.0 336.1 218.3 336.2 218.1 336.2 217.9 336.3 218.5 336.4 218.3 336.5 217.8 336.6 218.5 336.6 217.9 336.7 219.0 336.8 218.9 336.9 218.2 337.0 218.9 337.0 219.5 337.1 217.9 337.2 218.9 337.3 219.9 337.4 218.4 337.4 219.1 337.5 218.6 337.6 219.3 337.7 218.3 337.8 218.7 337.8 219.3 337.9 219.7 338.0 219.9 338.1 219.9 338.2 220.4 338.2 220.2 338.3 220.3 338.4 219.5 338.5 220.0 338.6 221.6 338.6 221.3 338.7 220.7 338.8 220.7 338.9 220.8 339.0 220.3 339.0 221.4 339.1 220.4 339.2 220.6 339.3 221.7 339.4 219.8 339.4 221.0 339.5 220.1 339.6 220.6 339.7 220.9 339.8 220.9 339.8 221.2 339.9 220.8 340.0 221.1 340.1 220.7 340.2 221.1 340.2 220.7 340.3 221.7 340.4 220.9 340.5 221.8 340.6 221.4 340.6 221.5 340.7 222.2 340.8 221.8 340.9 220.9 341.0 222.1 341.0 220.6 341.1 222.1 341.2 221.8 341.3 221.4 341.4 222.2 341.4 222.0 341.5 223.1 341.6 222.1 341.7 223.2 341.8 223.0 341.8 222.2 341.9 222.1 342.0 223.1 342.1 222.5 342.2 222.7 342.2 222.6 342.3 222.2 342.4 222.6 342.5 222.4 342.6 222.2 342.6 222.8 342.7 223.8 342.8 223.8 342.9 223.1 343.0 223.2 343.0 223.4 343.1 223.9 343.2 223.4 343.3 223.1 343.4 223.2 343.4 224.0 343.5 224.7 343.6 223.2 343.7 222.7 343.8 224.0 343.8 223.6 343.9 223.8 344.0 224.3 344.1 223.8 344.2 223.3 344.2 223.0 344.3 223.9 344.4 223.5 344.5 224.2 344.6 223.5 344.6 224.0 344.7 223.5 344.8 224.1 344.9 224.1 345.0 224.6 345.0 225.0 345.1 224.3 345.2 224.1 345.3 225.4 345.4 224.7 345.4 224.8 345.5 224.9 345.6 225.3 345.7 225.2 345.8 225.0 345.8 225.1 345.9 224.4 346.0 224.6 346.1 224.9 346.2 225.0 346.2 225.0 346.3 225.2 346.4 225.1 346.5 224.9 346.6 224.4 346.6 225.6 346.7 225.5 346.8 224.9 346.9 225.5 347.0 225.5 347.0 225.4 347.1 224.6 347.2 224.9 347.3 225.2 347.4 226.2 347.4 225.2 347.5 225.4 347.6 225.1 347.7 225.4 347.8 225.8 347.8 224.8 347.9 224.5 348.0 226.1 348.1 225.8 348.2 225.6 348.2 226.3 348.3 226.4 348.4 225.0 348.5 225.9 348.6 226.5 348.6 225.8 348.7 225.9 348.8 226.5 348.9 226.0 349.0 225.7"/><path fill="none" stroke="#00f" stroke-width="0.85" stroke-linejoin="round" stroke-opacity="1" d="M35.2 255.9 35.9 256.4 36.5 255.5 37.1 253.3 37.8 253.4 38.4 253.3 39.1 254.5 39.7 253.9 40.4 254.6 41.0 252.0 41.7 255.7 42.3 254.2 43.0 255.2 43.6 254.5 44.3 254.3 44.9 255.2 45.6 255.5 46.2 254.6 46.9 255.0 47.5 256.2 48.2 254.8 48.8 254.1 49.5 255.7 50.1 254.1 50.8 252.4 51.4 253.3 52.1 253.5 52.7 252.9 53.4 252.8 54.0 254.7 54.7 255.9 55.3 255.0 56.0 254.5 56.6 255.7 57.3 256.1 57.9 255.0 58.6 255.7 59.2 256.1 59.9 254.9 60.5 254.6 61.2 256.2 61.8 256.4 62.5 257.4 63.1 255.2 63.8 255.8 64.4 255.5 65.1 254.6 65.7 256.2 66.4 256.5 67.0 255.5 67.7 257.5 68.3 257.3 69.0 257.5 69.6 257.6 70.3 258.4 70.9 256.8 71.6 258.5 72.2 258.6 72.9 256.8 73.5 258.4 74.2 257.9 74.8 258.6 75.5 257.7 76.1 258.0 76.8 258.0 77.4 257.0 78.1 257.8 78.7 257.1 79.4 257.3 80.0 256.6 80.7 257.4 81.3 257.0 82.0 256.6 82.6 257.3 83.3 258.0 83.9 258.6 84.6 257.2 85.2 258.8 85.9 259.0 86.5 259.2 87.2 259.0 87.8 260.2 88.5 259.1 89.1 259.8 89.8 260.1 90.4 258.9 91.1 259.5 91.7 259.1 92.4 259.9 93.0 260.5 93.7 260.9 94.3 259.4 95.0 260.0 95.6 260.5 96.3 260.9 96.9 260.4 97.6 259.9 98.2 260.2 98.9 259.8 99.5 259.4 100.2 258.8 100.8 259.1 101.5 259.0 102.1 258.8 102.8 259.0 103.4 258.8 104.1 259.4 104.7 260.1 105.4 259.5"/><path fill="none" stroke="#00f" stroke-width="1.0" stroke-linejoin="round" stroke-opacity="1" d="M105.4 259.5 106.0 258.7 106.7 259.5 107.3 259.0 108.0 259.8 108.6 259.3 109.3 259.5 109.9 259.5 110.6 260.9 111.2 261.5 111.9 260.1 112.5 260.1 113.2 260.3 113.8 259.4 114.5 259.2 115.1 258.7 115.8 258.5 116.4 258.6 117.1 258.1 117.7 258.4 118.4 257.8 119.0 258.0 119.7 256.9 120.3 256.9 121.0 257.6 121.6 256.8 122.3 257.0 122.9 256.7 123.6 256.7 124.2 256.2 124.9 255.9 125.5 255.2 126.2 254.9 126.8 254.7 127.5 254.6 128.1 254.1 128.8 254.1 129.4 254.2 130.1 254.4 130.7 254.3 131.4 253.7 132.0 254.6 132.7 254.7 133.3 254.8 134.0 254.2 134.6 253.3 135.3 252.9 135.9 253.9 136.6 253.2 137.2 253.6 137.9 253.7 138.5 252.3 139.2 252.6 139.8 252.3 140.5 251.8 141.1 251.1 141.8 250.3 142.4 249.7 143.1 248.5 143.7 248.8 144.4 248.3 145.0 248.4 145.7 247.8 146.3 247.8 147.0 247.3 147.6 246.3 148.3 245.6 148.9 244.8 149.6 243.8 150.0 243.1 150.3 242.5 150.7 242.8 151.0 242.2 151.3 242.3 151.7 240.3 152.0 241.8 152.3 240.1 152.6 239.8 153.0 240.0 153.3 239.4 153.6 240.0 154.0 239.0 154.3 238.3 154.6 238.2 155.0 239.7 155.3 238.2 155.6 236.7 155.9 237.4 156.3 235.6 156.6 238.1 156.9 234.6 157.3 235.8 157.6 235.3 157.9 233.0 158.3 234.1 158.6 234.1 158.9 232.9 159.2 232.0 159.6 232.0 159.9 230.7 160.2 230.4 160.6 229.6 160.9 229.8 161.2 227.8 161.6 229.0 161.9 227.3 162.2 226.4 162.5 227.4 162.9 228.3 163.2 227.1 163.5 225.2 163.9 225.8 164.2 224.0 164.5 223.8 164.9 223.4 165.2 220.4 165.5 222.2 165.8 220.1 166.2 219.6 166.5 217.9 166.8 217.1 167.2 217.0 167.5 218.0 167.8 218.1 168.2 215.4 168.5 215.7 168.8 213.4 169.1 210.9 169.5 212.4 169.8 212.1 170.1 210.6 170.5 210.7 170.8 210.2 171.1 207.8 171.5 206.3 171.8 206.9 172.1 206.2 172.4 205.3 172.8 206.1 173.1 206.1 173.4 202.9 173.8 203.5 174.1 203.0 174.4 202.0 174.8 201.5 175.1 198.9 175.4 199.3 175.7 200.0 176.1 197.7 176.4 195.2 176.7 196.0 177.1 196.0 177.4 194.0 177.7 192.0 178.1 193.8 178.4 189.3 178.7 190.6 179.0 188.8 179.4 186.2 179.7 188.1 180.0 185.8 180.4 182.5 180.7 183.6 181.0 181.1 181.4 178.0 181.7 178.6 182.0 178.8 182.3 178.1 182.7 176.2 183.0 174.8 183.3 174.1 183.7 171.8 184.0 172.6 184.3 169.9 184.7 169.0 185.0 168.3 185.3 165.0 185.6 164.5 186.0 166.9 186.3 164.2 186.6 162.3 187.0 162.2 187.3 159.7 187.6 159.7 188.0 157.0 188.3 157.3 188.6 153.3 188.9 156.9 189.3 153.0 189.6 150.3 189.9 151.5 190.3 150.4 190.6 150.3 190.9 147.3 191.3 148.6 191.6 152.7 191.9 143.2 192.2 144.5 192.6 142.2 192.9 141.8 193.2 137.4 193.6 137.5 193.9 139.3 194.2 137.5 194.6 139.4 194.9 134.2 195.2 134.4 195.5 137.7 195.9 129.8 196.2 128.3 196.5 128.6 196.9 127.5 197.2 127.9 197.5 125.4 197.9 122.5 198.2 122.8 198.5 126.0 198.8 122.2 199.2 113.4 199.5 117.2 199.8 114.6 200.2 116.3 200.5 113.6 200.8 116.4 201.2 113.3 201.5 112.2 201.8 109.7 202.1 108.1 202.5 107.7 202.8 108.4 203.1 105.8 203.5 102.8 203.8 104.8 204.1 101.2 204.5 99.4 204.8 96.7 205.1 96.0 205.4 94.6 205.8 88.9 206.1 95.7 206.4 94.1 206.8 92.0 207.1 94.4 207.4 92.7 207.8 92.0 208.1 84.9 208.4 88.5 208.7 88.8 209.1 89.8 209.4 89.1 209.7 87.2 210.1 80.6 210.4 77.3 210.7 82.3 211.1 80.1 211.4 81.1 211.7 77.7 212.0 77.5 212.4 72.6 212.7 75.8 213.0 72.6 213.4 73.4 213.7 72.9 214.0 71.0 214.4 71.5 214.7 70.2 215.0 71.3"/><path fill="none" stroke="#00f" stroke-width="0.85" stroke-linejoin="round" stroke-opacity="1" d="M215.0 71.3 215.3 70.0 215.7 66.7 216.0 65.6 216.3 69.9 216.7 64.6 217.0 66.3 217.3 64.1 217.7 61.2 218.0 60.0 218.3 61.1 218.6 60.5 219.0 60.2 219.3 54.7 219.6 55.4 220.0 55.9 220.3 59.4 220.6 49.4 221.0 55.7 221.3 52.7 221.6 54.5 221.9 51.6 222.3 53.0 222.6 55.3 222.9 51.7 223.3 51.2 223.6 50.2 223.9 46.3 224.3 48.2 224.6 45.0 224.9 42.7 225.2 44.2 225.6 43.5 225.9 45.6 226.2 43.0 226.6 41.0 226.9 45.2 227.2 43.3 227.6 43.2 227.9 40.8 228.2 38.2 228.5 36.6 228.9 36.2 229.2 38.6 229.5 35.7 229.9 30.9 230.2 34.1 230.5 30.2 230.9 34.0 231.2 29.9 231.5 28.9 231.8 31.5 232.2 29.8 232.5 24.8 232.8 30.6 233.2 34.2 233.5 24.5 233.8 33.2 234.2 26.5 234.5 27.1 234.8 28.1 235.1 25.0 235.5 32.4 235.8 30.4 236.1 27.0 236.5 28.3 236.8 24.9 237.1 27.9 237.5 31.2 237.8 23.9 238.1 26.9 238.4 28.2 238.8 30.5 239.1 31.2 239.4 26.6 239.8 26.0 240.1 29.5 240.4 27.8 240.8 28.6 241.1 32.8 241.4 34.7 241.7 30.9 242.1 29.6 242.4 31.5 242.7 24.9 243.1 29.7 243.4 26.9 243.7 36.0 244.1 31.6 244.4 30.1 244.7 29.4 245.0 23.7 245.4 32.6 245.7 35.4 246.0 29.3 246.4 33.1 246.7 33.3 247.0 27.7 247.4 34.7 247.7 36.4 248.0 33.8 248.3 33.3 248.7 35.8 249.0 29.9 249.3 34.2 249.7 36.7 250.0 30.6 250.3 36.2 250.7 32.5 251.0 28.2 251.3 33.3 251.6 31.1 252.0 34.6 252.3 31.1 252.6 37.4 253.0 33.6 253.3 37.3 253.6 35.6 254.0 37.1 254.3 41.5 254.6 39.4 254.9 38.1 255.3 36.1 255.6 42.6 255.9 41.9 256.3 40.0 256.6 42.4 256.9 40.3 257.3 41.3 257.6 42.6 257.9 46.2 258.2 46.7 258.6 44.6 258.9 48.7 259.2 49.3 259.6 48.3 259.9 51.2 260.2 48.7 260.6 49.9 260.9 52.1 261.2 51.5 261.5 54.1 261.9 49.5 262.2 56.3"/><path fill="none" stroke="#00f" stroke-width="1.0" stroke-linejoin="round" stroke-opacity="1" d="M262.2 56.3 262.5 51.3 262.9 53.4 263.2 51.3 263.5 56.9 263.9 59.3 264.2 59.7 264.5 60.0 264.8 55.3 265.2 58.1 265.5 59.5 265.8 58.9 266.2 64.3 266.5 62.8 266.8 63.1 267.2 65.2 267.5 62.6 267.8 63.2 268.1 63.5 268.5 66.9 268.8 66.8 269.1 67.9 269.5 69.8 269.8 65.1 270.1 67.8 270.5 70.3 270.8 67.5 271.1 69.9 271.4 74.0 271.8 74.8 272.1 75.5 272.4 73.9 272.8 74.0 273.1 77.4 273.4 74.6 273.8 76.7 274.1 79.4 274.4 76.2 274.7 76.4 275.1 78.6 275.4 80.8 275.7 81.5 276.1 81.7 276.4 83.7 276.7 80.1 277.1 82.7 277.4 85.7 277.7 83.9 278.0 83.5 278.4 84.5 278.7 86.1 279.0 88.8 279.4 88.0 279.7 91.3 280.0 94.9 280.4 91.5 280.7 95.2 281.0 93.9 281.3 92.0 281.7 94.9 282.0 94.4 282.3 98.8 282.7 95.6 283.0 101.4 283.3 100.7 283.7 96.3 284.0 102.8 284.3 105.0 284.6 100.9 285.0 105.1 285.3 100.1 285.6 104.9 286.0 101.8 286.3 106.9 286.6 103.5 287.0 103.0 287.3 110.3 287.6 115.2 287.9 110.6 288.3 114.3 288.6 113.6 288.9 113.3 289.3 115.6 289.6 118.1 289.9 113.2 290.3 117.1 290.6 117.2 290.9 114.4 291.2 120.9 291.6 122.3 291.9 117.8 292.2 123.7 292.6 121.5 292.9 122.0 293.2 125.9 293.6 124.3 293.9 125.1 294.2 127.8 294.5 127.8 294.9 127.5 295.2 123.8 295.5 124.0 295.9 129.3 296.2 126.1 296.5 128.6 296.9 127.1 297.2 129.5 297.5 128.3 297.8 134.2 298.2 130.2 298.5 132.5 298.8 133.1 299.2 136.3 299.5 132.5 299.8 135.7 300.2 136.2 300.5 138.2 300.8 138.7 301.1 137.9 301.5 139.9 301.8 139.9 302.1 142.5 302.5 142.6 302.8 142.7 303.1 144.5 303.5 145.8 303.8 149.4 304.1 145.4 304.4 147.3 304.8 150.0 305.1 145.1 305.4 146.4 305.8 147.9 306.1 150.1 306.4 154.5 306.8 151.5 307.1 153.1 307.4 151.3 307.7 148.1 308.1 148.7 308.4 154.4 308.7 153.6 309.1 151.8 309.4 156.2 309.7 152.6 310.1 157.4 310.4 158.4 310.7 155.5 311.0 155.5 311.4 159.1 311.7 156.6 312.0 160.2 312.4 157.5 312.7 161.1 313.0 160.5 313.4 160.1 313.7 159.7 314.0 161.8 314.3 158.9 314.7 161.8 315.0 162.3 315.3 164.5 315.7 162.2 316.0 167.2 316.3 164.7 316.7 164.0 317.0 168.3 317.3 169.2 317.6 167.0 318.0 166.4 318.3 168.2 318.6 167.7 319.0 168.8 319.3 172.1 319.6 171.1 320.0 171.6 320.3 172.6 320.6 172.6 320.9 174.4 321.3 174.8 321.6 173.5 321.9 174.8 322.3 178.7 322.6 176.7 322.9 176.6 323.3 180.4 323.6 178.2 323.9 177.3 324.2 180.2 324.6 178.3 324.9 179.1 325.2 180.6 325.6 180.4 325.9 180.1 326.2 181.1 326.6 181.8 326.9 184.9 327.2 183.0 327.5 183.8 327.9 187.9 328.2 185.2 328.5 188.6 328.9 189.2 329.2 188.1 329.5 187.2 329.9 190.4 330.2 191.4 330.5 192.4 330.8 191.9 331.2 193.9 331.5 194.6 331.8 191.9 332.2 195.4 332.5 194.2 332.8 193.8 333.2 194.6 333.5 197.8 333.8 197.3 334.1 194.5 334.5 197.4 334.8 197.6 335.1 198.0 335.5 198.1 335.8 197.5 336.1 200.8 336.5 199.2 336.8 200.4 337.1 200.5 337.4 200.7 337.8 202.8 338.1 202.7 338.4 201.9 338.8 202.0 339.1 203.0 339.4 205.0 339.8 204.3 340.1 204.7 340.4 204.3 340.7 204.6 341.1 205.4 341.4 203.4 341.7 207.6 342.1 205.3 342.4 205.9 342.7 208.4 343.1 207.5 343.4 207.6 343.7 207.2 344.0 206.3 344.4 208.5 344.7 209.8 345.0 207.6 345.4 210.3 345.7 207.6 346.0 208.2 346.4 209.6 346.7 209.1 347.0 209.9 347.3 208.3 347.7 207.9 348.0 206.9 348.3 207.6 348.7 207.5 349.0 206.9"/>
<path d="M24.08,265.6 v-3 M24.08,0 v3 M56.60,265.6 v-5 M56.60,0 v5 M89.12,265.6 v-3 M89.12,0 v3 M121.65,265.6 v-5 M121.65,0 v5 M154.17,265.6 v-3 M154.17,0 v3 M186.70,265.6 v-5 M186.70,0 v5 M219.22,265.6 v-3 M219.22,0 v3 M251.75,265.6 v-5 M251.75,0 v5 M284.27,265.6 v-3 M284.27,0 v3 M316.80,265.6 v-5 M316.80,0 v5 M349.32,265.6 v-3 M349.32,0 v3 M24.2,257.75 h5 M349.4,257.75 h-5 M24.2,237.97 h3 M349.4,237.97 h-3 M24.2,218.19 h5 M349.4,218.19 h-5 M24.2,198.41 h3 M349.4,198.41 h-3 M24.2,178.63 h5 M349.4,178.63 h-5 M24.2,158.85 h3 M349.4,158.85 h-3 M24.2,139.07 h5 M349.4,139.07 h-5 M24.2,119.29 h3 M349.4,119.29 h-3 M24.2,99.51 h5 M349.4,99.51 h-5 M24.2,79.73 h3 M349.4,79.73 h-3 M24.2,59.95 h5 M349.4,59.95 h-5 M24.2,40.17 h3 M349.4,40.17 h-3 M24.2,20.39 h5 M349.4,20.39 h-5" stroke="#000" stroke-width="1.3" fill="none"/>
<rect x="24.2" y="0.3" width="325.2" height="265.3" fill="none" stroke="#000" stroke-width="1.4"/>
<rect x="37.8" y="18.6" width="103.3" height="62.3" fill="#fff" stroke="#777" stroke-width="1"/>
<line x1="40.2" y1="29.4" x2="78.9" y2="29.4" stroke="#000" stroke-width="0.5"/>
<line x1="40.2" y1="50.75" x2="78.9" y2="50.75" stroke="#f00" stroke-width="0.55"/>
<line x1="40.2" y1="71.9" x2="78.9" y2="71.9" stroke="#00f" stroke-width="0.55"/>
<text x="88.1" y="35.6" font-size="17.4" fill="#000">LED I</text>
<text x="88.1" y="56.5" font-size="17.4" fill="#f00">LED II</text>
<text x="88.1" y="77.4" font-size="17.4" fill="#00f">LED III</text>
<text x="57.00" y="279.6" text-anchor="middle" font-size="10">400</text><text x="122.05" y="279.6" text-anchor="middle" font-size="10">500</text><text x="187.10" y="279.6" text-anchor="middle" font-size="10">600</text><text x="252.15" y="279.6" text-anchor="middle" font-size="10">700</text><text x="317.20" y="279.6" text-anchor="middle" font-size="10">800</text>
<text x="187" y="299.7" text-anchor="middle" font-size="14.5">Wavelength (nm)</text>
<text transform="translate(11,142.7) rotate(-90)" text-anchor="middle" font-size="14.5">CL Intensity (a. u.)</text>
</svg>
</body></html>
